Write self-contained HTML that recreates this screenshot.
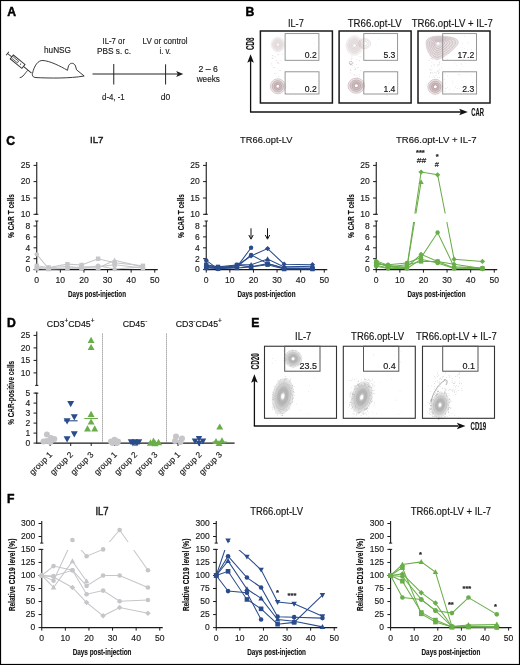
<!DOCTYPE html>
<html><head><meta charset="utf-8"><style>
html,body{margin:0;padding:0;background:#fff;}
svg{display:block;font-family:"Liberation Sans", sans-serif;}
svg text{stroke:#1a1a1a;stroke-width:0.15px;}
#wrap{position:absolute;left:0;top:0;width:520px;height:665px;will-change:transform;}
</style></head><body><div id="wrap">
<svg width="520" height="665" viewBox="0 0 520 665">
<rect x="0" y="0" width="520" height="665" fill="#fff"/>
<rect x="0.5" y="0.5" width="519" height="664" fill="none" stroke="#000" stroke-width="1.2"/>
<text x="7.30" y="16.20" font-size="12.2" text-anchor="start" font-weight="bold" fill="#000" style="stroke:#000;stroke-width:0.45px">A</text>
<text x="245.60" y="16.00" font-size="12.2" text-anchor="start" font-weight="bold" fill="#000" style="stroke:#000;stroke-width:0.45px">B</text>
<text x="6.20" y="144.70" font-size="12.2" text-anchor="start" font-weight="bold" fill="#000" style="stroke:#000;stroke-width:0.45px">C</text>
<text x="6.90" y="326.50" font-size="12.2" text-anchor="start" font-weight="bold" fill="#000" style="stroke:#000;stroke-width:0.45px">D</text>
<text x="251.20" y="326.60" font-size="12.2" text-anchor="start" font-weight="bold" fill="#000" style="stroke:#000;stroke-width:0.45px">E</text>
<text x="6.90" y="502.90" font-size="12.2" text-anchor="start" font-weight="bold" fill="#000" style="stroke:#000;stroke-width:0.45px">F</text>
<text x="57.50" y="52.50" font-size="9.2" text-anchor="middle" font-weight="normal" fill="#222" textLength="27" lengthAdjust="spacingAndGlyphs" >huNSG</text>
<text x="113.75" y="43.50" font-size="8.8" text-anchor="middle" font-weight="normal" fill="#222" textLength="22.5" lengthAdjust="spacingAndGlyphs" >IL-7 or</text>
<text x="113.95" y="53.75" font-size="8.8" text-anchor="middle" font-weight="normal" fill="#222" textLength="34" lengthAdjust="spacingAndGlyphs" >PBS s. c.</text>
<text x="165.10" y="43.80" font-size="8.8" text-anchor="middle" font-weight="normal" fill="#222" textLength="45" lengthAdjust="spacingAndGlyphs" >LV or control</text>
<text x="165.20" y="53.70" font-size="8.8" text-anchor="middle" font-weight="normal" fill="#222" textLength="11.6" lengthAdjust="spacingAndGlyphs" >i. v.</text>
<text x="208.20" y="72.00" font-size="9.2" text-anchor="middle" font-weight="normal" fill="#222" textLength="19.4" lengthAdjust="spacingAndGlyphs" >2 – 6</text>
<text x="208.35" y="81.60" font-size="9.2" text-anchor="middle" font-weight="normal" fill="#222" textLength="23.3" lengthAdjust="spacingAndGlyphs" >weeks</text>
<text x="113.38" y="100.00" font-size="8.8" text-anchor="middle" font-weight="normal" fill="#222" textLength="22.75" lengthAdjust="spacingAndGlyphs" >d-4, -1</text>
<text x="165.55" y="100.00" font-size="8.8" text-anchor="middle" font-weight="normal" fill="#222" textLength="9.5" lengthAdjust="spacingAndGlyphs" >d0</text>
<line x1="92.50" y1="74.00" x2="179.00" y2="74.00" stroke="#222" stroke-width="1.0" />
<path d="M183.3 74 L176.2 70.9 L177.8 74 L176.2 77.1 Z" fill="#222"/>
<line x1="113.75" y1="64.00" x2="113.75" y2="84.50" stroke="#222" stroke-width="1.0" />
<line x1="165.60" y1="64.30" x2="165.60" y2="84.50" stroke="#222" stroke-width="1.0" />
<g stroke="#333" stroke-width="0.95" fill="none"><g transform="translate(7.5,53.5) rotate(39)"><path d="M0 -2.2 L0 2.2 M0 0 L5.5 0 M20.5 0 L31 0"/><rect x="5.5" y="-2.5" width="15" height="5"/><path d="M6 -1.0 L13.5 -1.0 M6 1.0 L13.5 1.0 M13.5 -1.2 L13.5 1.2 M16.5 -0.6 L17.2 0.8" stroke-width="0.7"/></g><path d="M19.7 77.6 C23 77.5 25 73 27.8 70.3"/><path d="M32.5 73.5 C34 66 38 60 43 60.5 C50 61 60 66 67.5 70.3 L68.2 67 C69 62.5 74 62 75.5 66 L76.5 69.8 L84.2 76 C70 78.5 50 78.3 35 77.5 C32.5 77 32 75 32.5 73.5 Z"/></g>
<text x="295.85" y="26.90" font-size="10.7" text-anchor="middle" font-weight="normal" fill="#111" textLength="15.9" lengthAdjust="spacingAndGlyphs" stroke="#111" stroke-width="0.1">IL-7</text>
<text x="374.70" y="27.00" font-size="10.7" text-anchor="middle" font-weight="normal" fill="#111" textLength="54" lengthAdjust="spacingAndGlyphs" stroke="#111" stroke-width="0.1">TR66.opt-LV</text>
<text x="452.30" y="27.00" font-size="10.7" text-anchor="middle" font-weight="normal" fill="#111" textLength="81.2" lengthAdjust="spacingAndGlyphs" stroke="#111" stroke-width="0.1">TR66.opt-LV + IL-7</text>
<defs><radialGradient id="gM"><stop offset="0" stop-color="#fff"/><stop offset="0.15" stop-color="#fff"/><stop offset="0.3" stop-color="#9c7c82" stop-opacity="0.55"/><stop offset="0.7" stop-color="#9c7c82" stop-opacity="0.35"/><stop offset="1" stop-color="#9c7c82" stop-opacity="0.08"/></radialGradient><radialGradient id="gML"><stop offset="0" stop-color="#fff"/><stop offset="0.12" stop-color="#d5c8ca" stop-opacity="0.5"/><stop offset="0.7" stop-color="#c0aeb1" stop-opacity="0.3"/><stop offset="1" stop-color="#c0aeb1" stop-opacity="0.05"/></radialGradient><radialGradient id="gG"><stop offset="0" stop-color="#fff"/><stop offset="0.1" stop-color="#e8e8e8"/><stop offset="0.35" stop-color="#9c9c9c" stop-opacity="0.8"/><stop offset="0.7" stop-color="#b0b0b0" stop-opacity="0.6"/><stop offset="1" stop-color="#c4c4c4" stop-opacity="0.3"/></radialGradient></defs>
<circle cx="275.0" cy="56.8" r="0.4" fill="#9c7c82" fill-opacity="0.5"/>
<circle cx="278.6" cy="54.8" r="0.4" fill="#9c7c82" fill-opacity="0.5"/>
<circle cx="277.3" cy="62.1" r="0.4" fill="#9c7c82" fill-opacity="0.5"/>
<circle cx="272.0" cy="65.7" r="0.4" fill="#9c7c82" fill-opacity="0.5"/>
<circle cx="271.8" cy="63.8" r="0.4" fill="#9c7c82" fill-opacity="0.5"/>
<circle cx="272.2" cy="55.3" r="0.4" fill="#9c7c82" fill-opacity="0.5"/>
<circle cx="276.1" cy="73.7" r="0.4" fill="#9c7c82" fill-opacity="0.5"/>
<circle cx="272.8" cy="58.6" r="0.4" fill="#9c7c82" fill-opacity="0.5"/>
<circle cx="278.3" cy="76.7" r="0.4" fill="#9c7c82" fill-opacity="0.5"/>
<circle cx="277.7" cy="62.9" r="0.4" fill="#9c7c82" fill-opacity="0.5"/>
<circle cx="282.1" cy="54.2" r="0.4" fill="#9c7c82" fill-opacity="0.5"/>
<circle cx="280.8" cy="60.2" r="0.4" fill="#9c7c82" fill-opacity="0.5"/>
<circle cx="273.0" cy="55.9" r="0.4" fill="#9c7c82" fill-opacity="0.5"/>
<circle cx="274.8" cy="73.4" r="0.4" fill="#9c7c82" fill-opacity="0.5"/>
<circle cx="273.4" cy="67.5" r="0.4" fill="#9c7c82" fill-opacity="0.5"/>
<circle cx="278.4" cy="62.3" r="0.4" fill="#9c7c82" fill-opacity="0.5"/>
<circle cx="277.4" cy="54.6" r="0.4" fill="#9c7c82" fill-opacity="0.5"/>
<circle cx="272.1" cy="58.1" r="0.4" fill="#9c7c82" fill-opacity="0.5"/>
<circle cx="278.9" cy="63.7" r="0.4" fill="#9c7c82" fill-opacity="0.5"/>
<circle cx="274.9" cy="67.6" r="0.4" fill="#9c7c82" fill-opacity="0.5"/>
<circle cx="276.4" cy="60.5" r="0.4" fill="#9c7c82" fill-opacity="0.5"/>
<circle cx="280.1" cy="70.5" r="0.4" fill="#9c7c82" fill-opacity="0.5"/>
<circle cx="279.9" cy="70.5" r="0.35" fill="#9c7c82" fill-opacity="0.4"/>
<circle cx="293.1" cy="88.5" r="0.35" fill="#9c7c82" fill-opacity="0.4"/>
<circle cx="302.7" cy="53.3" r="0.35" fill="#9c7c82" fill-opacity="0.4"/>
<circle cx="314.5" cy="43.1" r="0.35" fill="#9c7c82" fill-opacity="0.4"/>
<circle cx="288.1" cy="81.4" r="0.35" fill="#9c7c82" fill-opacity="0.4"/>
<g transform="translate(277.90,44.60) rotate(0)">
<ellipse cx="0" cy="0" rx="6.8" ry="7.4" fill="url(#gML)"/>
<ellipse cx="0" cy="0" rx="6.80" ry="7.40" fill="none" stroke="#b8a8aa" stroke-opacity="0.35" stroke-width="0.5"/>
<ellipse cx="0" cy="0" rx="5.44" ry="5.92" fill="none" stroke="#b8a8aa" stroke-opacity="0.35" stroke-width="0.5"/>
<ellipse cx="0" cy="0" rx="4.08" ry="4.44" fill="none" stroke="#b8a8aa" stroke-opacity="0.35" stroke-width="0.5"/>
<ellipse cx="0" cy="0" rx="2.72" ry="2.96" fill="none" stroke="#b8a8aa" stroke-opacity="0.35" stroke-width="0.5"/>
<ellipse cx="0" cy="0" rx="1.36" ry="1.48" fill="none" stroke="#b8a8aa" stroke-opacity="0.35" stroke-width="0.5"/>
<ellipse cx="0" cy="0" rx="0.95" ry="1.04" fill="#fff"/>
</g>
<g transform="translate(277.80,86.30) rotate(0)">
<ellipse cx="0" cy="0" rx="7.5" ry="7.5" fill="url(#gM)"/>
<ellipse cx="0" cy="0" rx="7.50" ry="7.50" fill="none" stroke="#9c7c82" stroke-opacity="0.6" stroke-width="0.6"/>
<ellipse cx="0" cy="0" rx="5.62" ry="5.62" fill="none" stroke="#9c7c82" stroke-opacity="0.6" stroke-width="0.6"/>
<ellipse cx="0" cy="0" rx="3.75" ry="3.75" fill="none" stroke="#9c7c82" stroke-opacity="0.6" stroke-width="0.6"/>
<ellipse cx="0" cy="0" rx="1.88" ry="1.88" fill="none" stroke="#9c7c82" stroke-opacity="0.6" stroke-width="0.6"/>
<ellipse cx="0" cy="0" rx="1.05" ry="1.05" fill="#fff"/>
</g>
<rect x="260.40" y="31.00" width="72.00" height="72.00" stroke="#1a1a1a" stroke-width="1.5" fill="none"/>
<rect x="285.10" y="33.60" width="33.80" height="26.70" stroke="#8a8a8a" stroke-width="0.9" fill="none"/>
<rect x="285.10" y="71.80" width="33.90" height="22.20" stroke="#8a8a8a" stroke-width="0.9" fill="none"/>
<text x="316.70" y="57.90" font-size="8.6" text-anchor="end" font-weight="normal" fill="#111" >0.2</text>
<text x="316.70" y="91.60" font-size="8.6" text-anchor="end" font-weight="normal" fill="#111" >0.2</text>
<circle cx="351.8" cy="65.2" r="0.4" fill="#9c7c82" fill-opacity="0.5"/>
<circle cx="350.5" cy="69.7" r="0.4" fill="#9c7c82" fill-opacity="0.5"/>
<circle cx="358.5" cy="67.3" r="0.4" fill="#9c7c82" fill-opacity="0.5"/>
<circle cx="359.7" cy="60.8" r="0.4" fill="#9c7c82" fill-opacity="0.5"/>
<circle cx="357.7" cy="67.9" r="0.4" fill="#9c7c82" fill-opacity="0.5"/>
<circle cx="356.5" cy="64.4" r="0.4" fill="#9c7c82" fill-opacity="0.5"/>
<circle cx="359.3" cy="76.6" r="0.4" fill="#9c7c82" fill-opacity="0.5"/>
<circle cx="355.3" cy="69.6" r="0.4" fill="#9c7c82" fill-opacity="0.5"/>
<circle cx="350.8" cy="70.5" r="0.4" fill="#9c7c82" fill-opacity="0.5"/>
<circle cx="357.2" cy="77.8" r="0.4" fill="#9c7c82" fill-opacity="0.5"/>
<circle cx="359.1" cy="60.1" r="0.4" fill="#9c7c82" fill-opacity="0.5"/>
<circle cx="354.3" cy="69.7" r="0.4" fill="#9c7c82" fill-opacity="0.5"/>
<circle cx="350.3" cy="64.5" r="0.4" fill="#9c7c82" fill-opacity="0.5"/>
<circle cx="351.9" cy="55.9" r="0.4" fill="#9c7c82" fill-opacity="0.5"/>
<circle cx="350.7" cy="72.2" r="0.4" fill="#9c7c82" fill-opacity="0.5"/>
<circle cx="351.5" cy="59.2" r="0.4" fill="#9c7c82" fill-opacity="0.5"/>
<circle cx="354.4" cy="74.8" r="0.4" fill="#9c7c82" fill-opacity="0.5"/>
<circle cx="351.0" cy="64.2" r="0.4" fill="#9c7c82" fill-opacity="0.5"/>
<circle cx="356.1" cy="75.1" r="0.4" fill="#9c7c82" fill-opacity="0.5"/>
<circle cx="359.1" cy="74.6" r="0.4" fill="#9c7c82" fill-opacity="0.5"/>
<circle cx="353.2" cy="63.4" r="0.4" fill="#9c7c82" fill-opacity="0.5"/>
<circle cx="354.0" cy="75.1" r="0.4" fill="#9c7c82" fill-opacity="0.5"/>
<circle cx="360.6" cy="56.8" r="0.4" fill="#9c7c82" fill-opacity="0.5"/>
<circle cx="352.0" cy="58.8" r="0.4" fill="#9c7c82" fill-opacity="0.5"/>
<circle cx="352.7" cy="65.1" r="0.4" fill="#9c7c82" fill-opacity="0.5"/>
<circle cx="356.6" cy="59.6" r="0.4" fill="#9c7c82" fill-opacity="0.5"/>
<circle cx="350.1" cy="63.5" r="0.4" fill="#9c7c82" fill-opacity="0.5"/>
<circle cx="354.2" cy="67.2" r="0.4" fill="#9c7c82" fill-opacity="0.5"/>
<circle cx="360.6" cy="70.3" r="0.4" fill="#9c7c82" fill-opacity="0.5"/>
<circle cx="355.8" cy="68.4" r="0.4" fill="#9c7c82" fill-opacity="0.5"/>
<circle cx="378.9" cy="39.2" r="0.35" fill="#9c7c82" fill-opacity="0.4"/>
<circle cx="389.4" cy="82.8" r="0.35" fill="#9c7c82" fill-opacity="0.4"/>
<circle cx="388.2" cy="83.9" r="0.35" fill="#9c7c82" fill-opacity="0.4"/>
<circle cx="365.5" cy="59.9" r="0.35" fill="#9c7c82" fill-opacity="0.4"/>
<circle cx="352.0" cy="74.1" r="0.35" fill="#9c7c82" fill-opacity="0.4"/>
<circle cx="350.0" cy="40.0" r="0.35" fill="#9c7c82" fill-opacity="0.4"/>
<circle cx="356.9" cy="45.7" r="0.35" fill="#9c7c82" fill-opacity="0.4"/>
<circle cx="363.1" cy="39.2" r="0.35" fill="#9c7c82" fill-opacity="0.4"/>
<circle cx="347.1" cy="45.1" r="0.35" fill="#9c7c82" fill-opacity="0.4"/>
<circle cx="351.9" cy="57.8" r="0.35" fill="#9c7c82" fill-opacity="0.4"/>
<circle cx="348.3" cy="88.5" r="0.35" fill="#9c7c82" fill-opacity="0.4"/>
<circle cx="376.0" cy="44.9" r="0.35" fill="#9c7c82" fill-opacity="0.4"/>
<circle cx="359.0" cy="56.8" r="0.35" fill="#9c7c82" fill-opacity="0.4"/>
<circle cx="364.2" cy="43.4" r="0.35" fill="#9c7c82" fill-opacity="0.4"/>
<circle cx="387.0" cy="95.6" r="0.35" fill="#9c7c82" fill-opacity="0.4"/>
<g transform="translate(354.50,45.50) rotate(0)">
<ellipse cx="0" cy="0" rx="8.5" ry="9.8" fill="url(#gML)"/>
<ellipse cx="0" cy="0" rx="8.50" ry="9.80" fill="none" stroke="#b09a9e" stroke-opacity="0.35" stroke-width="0.5"/>
<ellipse cx="0" cy="0" rx="6.80" ry="7.84" fill="none" stroke="#b09a9e" stroke-opacity="0.35" stroke-width="0.5"/>
<ellipse cx="0" cy="0" rx="5.10" ry="5.88" fill="none" stroke="#b09a9e" stroke-opacity="0.35" stroke-width="0.5"/>
<ellipse cx="0" cy="0" rx="3.40" ry="3.92" fill="none" stroke="#b09a9e" stroke-opacity="0.35" stroke-width="0.5"/>
<ellipse cx="0" cy="0" rx="1.70" ry="1.96" fill="none" stroke="#b09a9e" stroke-opacity="0.35" stroke-width="0.5"/>
<ellipse cx="0" cy="0" rx="1.19" ry="1.37" fill="#fff"/>
</g>
<ellipse cx="364.6" cy="43.5" rx="6.0" ry="5.0" fill="none" stroke="#9c7c82" stroke-opacity="0.45" stroke-width="0.5"/>
<ellipse cx="364.6" cy="43.5" rx="4.4" ry="3.7" fill="none" stroke="#9c7c82" stroke-opacity="0.45" stroke-width="0.5"/>
<ellipse cx="364.6" cy="43.5" rx="2.8" ry="2.4" fill="none" stroke="#9c7c82" stroke-opacity="0.45" stroke-width="0.5"/>
<circle cx="350.8" cy="62.9" r="1.6" fill="none" stroke="#9c7c82" stroke-opacity="0.7" stroke-width="0.6"/>
<g transform="translate(356.30,85.70) rotate(0)">
<ellipse cx="0" cy="0" rx="8.3" ry="7.6" fill="url(#gM)"/>
<ellipse cx="0" cy="0" rx="8.30" ry="7.60" fill="none" stroke="#9c7c82" stroke-opacity="0.65" stroke-width="0.6"/>
<ellipse cx="0" cy="0" rx="6.23" ry="5.70" fill="none" stroke="#9c7c82" stroke-opacity="0.65" stroke-width="0.6"/>
<ellipse cx="0" cy="0" rx="4.15" ry="3.80" fill="none" stroke="#9c7c82" stroke-opacity="0.65" stroke-width="0.6"/>
<ellipse cx="0" cy="0" rx="2.08" ry="1.90" fill="none" stroke="#9c7c82" stroke-opacity="0.65" stroke-width="0.6"/>
<ellipse cx="0" cy="0" rx="1.16" ry="1.06" fill="#fff"/>
</g>
<rect x="339.10" y="31.00" width="72.00" height="72.00" stroke="#1a1a1a" stroke-width="1.5" fill="none"/>
<rect x="363.80" y="33.60" width="33.80" height="26.70" stroke="#8a8a8a" stroke-width="0.9" fill="none"/>
<rect x="363.80" y="71.80" width="33.90" height="22.20" stroke="#8a8a8a" stroke-width="0.9" fill="none"/>
<text x="395.40" y="57.90" font-size="8.6" text-anchor="end" font-weight="normal" fill="#111" >5.3</text>
<text x="395.40" y="91.60" font-size="8.6" text-anchor="end" font-weight="normal" fill="#111" >1.4</text>
<circle cx="434.1" cy="65.1" r="0.4" fill="#9c7c82" fill-opacity="0.5"/>
<circle cx="429.9" cy="55.6" r="0.4" fill="#9c7c82" fill-opacity="0.5"/>
<circle cx="432.8" cy="59.6" r="0.4" fill="#9c7c82" fill-opacity="0.5"/>
<circle cx="438.1" cy="57.0" r="0.4" fill="#9c7c82" fill-opacity="0.5"/>
<circle cx="429.3" cy="76.8" r="0.4" fill="#9c7c82" fill-opacity="0.5"/>
<circle cx="434.8" cy="56.7" r="0.4" fill="#9c7c82" fill-opacity="0.5"/>
<circle cx="435.0" cy="53.7" r="0.4" fill="#9c7c82" fill-opacity="0.5"/>
<circle cx="434.8" cy="77.5" r="0.4" fill="#9c7c82" fill-opacity="0.5"/>
<circle cx="438.5" cy="70.4" r="0.4" fill="#9c7c82" fill-opacity="0.5"/>
<circle cx="431.9" cy="62.2" r="0.4" fill="#9c7c82" fill-opacity="0.5"/>
<circle cx="430.8" cy="72.3" r="0.4" fill="#9c7c82" fill-opacity="0.5"/>
<circle cx="434.9" cy="72.5" r="0.4" fill="#9c7c82" fill-opacity="0.5"/>
<circle cx="432.6" cy="58.6" r="0.4" fill="#9c7c82" fill-opacity="0.5"/>
<circle cx="437.9" cy="77.6" r="0.4" fill="#9c7c82" fill-opacity="0.5"/>
<circle cx="438.4" cy="73.2" r="0.4" fill="#9c7c82" fill-opacity="0.5"/>
<circle cx="438.0" cy="71.5" r="0.4" fill="#9c7c82" fill-opacity="0.5"/>
<circle cx="431.5" cy="65.9" r="0.4" fill="#9c7c82" fill-opacity="0.5"/>
<circle cx="432.9" cy="53.7" r="0.4" fill="#9c7c82" fill-opacity="0.5"/>
<circle cx="429.3" cy="60.0" r="0.4" fill="#9c7c82" fill-opacity="0.5"/>
<circle cx="431.9" cy="70.3" r="0.4" fill="#9c7c82" fill-opacity="0.5"/>
<circle cx="439.5" cy="64.2" r="0.4" fill="#9c7c82" fill-opacity="0.5"/>
<circle cx="439.3" cy="77.7" r="0.4" fill="#9c7c82" fill-opacity="0.5"/>
<circle cx="439.5" cy="62.1" r="0.4" fill="#9c7c82" fill-opacity="0.5"/>
<circle cx="431.4" cy="58.7" r="0.4" fill="#9c7c82" fill-opacity="0.5"/>
<circle cx="431.2" cy="58.1" r="0.4" fill="#9c7c82" fill-opacity="0.5"/>
<circle cx="435.9" cy="75.5" r="0.4" fill="#9c7c82" fill-opacity="0.5"/>
<circle cx="438.2" cy="65.0" r="0.4" fill="#9c7c82" fill-opacity="0.5"/>
<circle cx="436.2" cy="73.0" r="0.4" fill="#9c7c82" fill-opacity="0.5"/>
<circle cx="429.9" cy="69.5" r="0.4" fill="#9c7c82" fill-opacity="0.5"/>
<circle cx="439.0" cy="72.6" r="0.4" fill="#9c7c82" fill-opacity="0.5"/>
<circle cx="437.3" cy="65.0" r="0.4" fill="#9c7c82" fill-opacity="0.5"/>
<circle cx="431.0" cy="72.7" r="0.4" fill="#9c7c82" fill-opacity="0.5"/>
<circle cx="432.7" cy="73.0" r="0.4" fill="#9c7c82" fill-opacity="0.5"/>
<circle cx="439.7" cy="62.9" r="0.4" fill="#9c7c82" fill-opacity="0.5"/>
<circle cx="433.4" cy="76.7" r="0.4" fill="#9c7c82" fill-opacity="0.5"/>
<circle cx="437.0" cy="57.3" r="0.4" fill="#9c7c82" fill-opacity="0.5"/>
<circle cx="430.4" cy="56.8" r="0.4" fill="#9c7c82" fill-opacity="0.5"/>
<circle cx="439.0" cy="73.2" r="0.4" fill="#9c7c82" fill-opacity="0.5"/>
<circle cx="430.6" cy="73.7" r="0.4" fill="#9c7c82" fill-opacity="0.5"/>
<circle cx="439.8" cy="69.4" r="0.4" fill="#9c7c82" fill-opacity="0.5"/>
<circle cx="442.5" cy="68.9" r="0.35" fill="#9c7c82" fill-opacity="0.4"/>
<circle cx="432.2" cy="36.9" r="0.35" fill="#9c7c82" fill-opacity="0.4"/>
<circle cx="471.6" cy="75.0" r="0.35" fill="#9c7c82" fill-opacity="0.4"/>
<circle cx="450.7" cy="92.0" r="0.35" fill="#9c7c82" fill-opacity="0.4"/>
<circle cx="446.4" cy="88.3" r="0.35" fill="#9c7c82" fill-opacity="0.4"/>
<circle cx="464.8" cy="48.7" r="0.35" fill="#9c7c82" fill-opacity="0.4"/>
<circle cx="437.8" cy="53.6" r="0.35" fill="#9c7c82" fill-opacity="0.4"/>
<circle cx="437.3" cy="71.2" r="0.35" fill="#9c7c82" fill-opacity="0.4"/>
<circle cx="438.2" cy="61.1" r="0.35" fill="#9c7c82" fill-opacity="0.4"/>
<circle cx="432.2" cy="90.6" r="0.35" fill="#9c7c82" fill-opacity="0.4"/>
<circle cx="442.6" cy="63.5" r="0.35" fill="#9c7c82" fill-opacity="0.4"/>
<circle cx="453.4" cy="90.3" r="0.35" fill="#9c7c82" fill-opacity="0.4"/>
<circle cx="445.8" cy="91.1" r="0.35" fill="#9c7c82" fill-opacity="0.4"/>
<circle cx="449.6" cy="67.9" r="0.35" fill="#9c7c82" fill-opacity="0.4"/>
<circle cx="450.6" cy="37.1" r="0.35" fill="#9c7c82" fill-opacity="0.4"/>
<circle cx="446.7" cy="47.0" r="0.35" fill="#9c7c82" fill-opacity="0.4"/>
<circle cx="426.2" cy="84.0" r="0.35" fill="#9c7c82" fill-opacity="0.4"/>
<circle cx="434.1" cy="64.4" r="0.35" fill="#9c7c82" fill-opacity="0.4"/>
<circle cx="460.1" cy="69.4" r="0.35" fill="#9c7c82" fill-opacity="0.4"/>
<circle cx="441.3" cy="67.1" r="0.35" fill="#9c7c82" fill-opacity="0.4"/>
<circle cx="452.1" cy="83.1" r="0.35" fill="#9c7c82" fill-opacity="0.4"/>
<circle cx="431.0" cy="69.6" r="0.35" fill="#9c7c82" fill-opacity="0.4"/>
<circle cx="437.7" cy="52.6" r="0.35" fill="#9c7c82" fill-opacity="0.4"/>
<circle cx="462.3" cy="66.5" r="0.35" fill="#9c7c82" fill-opacity="0.4"/>
<circle cx="452.4" cy="81.6" r="0.35" fill="#9c7c82" fill-opacity="0.4"/>
<circle cx="470.4" cy="60.3" r="0.4" fill="#9c7c82" fill-opacity="0.45"/>
<circle cx="461.4" cy="63.8" r="0.4" fill="#9c7c82" fill-opacity="0.45"/>
<circle cx="458.4" cy="74.5" r="0.4" fill="#9c7c82" fill-opacity="0.45"/>
<circle cx="456.6" cy="65.4" r="0.4" fill="#9c7c82" fill-opacity="0.45"/>
<circle cx="457.3" cy="88.7" r="0.4" fill="#9c7c82" fill-opacity="0.45"/>
<circle cx="464.0" cy="85.0" r="0.4" fill="#9c7c82" fill-opacity="0.45"/>
<circle cx="471.3" cy="49.8" r="0.4" fill="#9c7c82" fill-opacity="0.45"/>
<circle cx="459.8" cy="88.8" r="0.4" fill="#9c7c82" fill-opacity="0.45"/>
<circle cx="468.2" cy="42.8" r="0.4" fill="#9c7c82" fill-opacity="0.45"/>
<circle cx="446.6" cy="60.2" r="0.4" fill="#9c7c82" fill-opacity="0.45"/>
<circle cx="445.2" cy="48.7" r="0.4" fill="#9c7c82" fill-opacity="0.45"/>
<circle cx="445.2" cy="73.2" r="0.4" fill="#9c7c82" fill-opacity="0.45"/>
<circle cx="466.5" cy="86.1" r="0.4" fill="#9c7c82" fill-opacity="0.45"/>
<circle cx="447.6" cy="75.8" r="0.4" fill="#9c7c82" fill-opacity="0.45"/>
<circle cx="462.8" cy="43.1" r="0.4" fill="#9c7c82" fill-opacity="0.45"/>
<circle cx="469.5" cy="90.2" r="0.4" fill="#9c7c82" fill-opacity="0.45"/>
<circle cx="449.6" cy="89.3" r="0.4" fill="#9c7c82" fill-opacity="0.45"/>
<circle cx="454.9" cy="62.8" r="0.4" fill="#9c7c82" fill-opacity="0.45"/>
<circle cx="472.7" cy="82.4" r="0.4" fill="#9c7c82" fill-opacity="0.45"/>
<circle cx="447.8" cy="59.6" r="0.4" fill="#9c7c82" fill-opacity="0.45"/>
<circle cx="458.5" cy="54.3" r="0.4" fill="#9c7c82" fill-opacity="0.45"/>
<circle cx="448.9" cy="53.2" r="0.4" fill="#9c7c82" fill-opacity="0.45"/>
<circle cx="464.7" cy="36.1" r="0.4" fill="#9c7c82" fill-opacity="0.45"/>
<circle cx="459.6" cy="60.1" r="0.4" fill="#9c7c82" fill-opacity="0.45"/>
<circle cx="443.5" cy="53.9" r="0.4" fill="#9c7c82" fill-opacity="0.45"/>
<circle cx="461.7" cy="64.2" r="0.4" fill="#9c7c82" fill-opacity="0.45"/>
<circle cx="444.9" cy="91.1" r="0.4" fill="#9c7c82" fill-opacity="0.45"/>
<circle cx="466.7" cy="90.4" r="0.4" fill="#9c7c82" fill-opacity="0.45"/>
<circle cx="446.1" cy="50.1" r="0.4" fill="#9c7c82" fill-opacity="0.45"/>
<circle cx="444.2" cy="79.4" r="0.4" fill="#9c7c82" fill-opacity="0.45"/>
<circle cx="451.1" cy="42.4" r="0.4" fill="#9c7c82" fill-opacity="0.45"/>
<circle cx="455.7" cy="87.0" r="0.4" fill="#9c7c82" fill-opacity="0.45"/>
<circle cx="467.6" cy="49.7" r="0.4" fill="#9c7c82" fill-opacity="0.45"/>
<circle cx="447.5" cy="87.4" r="0.4" fill="#9c7c82" fill-opacity="0.45"/>
<circle cx="460.1" cy="74.9" r="0.4" fill="#9c7c82" fill-opacity="0.45"/>
<circle cx="445.7" cy="38.3" r="0.4" fill="#9c7c82" fill-opacity="0.45"/>
<circle cx="463.6" cy="59.2" r="0.4" fill="#9c7c82" fill-opacity="0.45"/>
<circle cx="445.2" cy="88.5" r="0.4" fill="#9c7c82" fill-opacity="0.45"/>
<circle cx="462.0" cy="80.7" r="0.4" fill="#9c7c82" fill-opacity="0.45"/>
<circle cx="445.5" cy="83.8" r="0.4" fill="#9c7c82" fill-opacity="0.45"/>
<g transform="translate(438.00,43.5)">
<path d="M-12 -1 C-12 -8 2 -8.5 12 -6.5 C18 -5.5 21.5 -3.5 20 0.5 C16 6.5 6 14.5 -1 16.3 C-8 14.5 -12 6.5 -12 -1 Z" fill="#b09a9e" fill-opacity="0.3"/>
<path d="M-12 -1 C-12 -8 2 -8.5 12 -6.5 C18 -5.5 21.5 -3.5 20 0.5 C16 6.5 6 14.5 -1 16.3 C-8 14.5 -12 6.5 -12 -1 Z" transform="scale(1.0)" fill="none" stroke="#9c7c82" stroke-opacity="0.45" stroke-width="0.55"/>
<path d="M-12 -1 C-12 -8 2 -8.5 12 -6.5 C18 -5.5 21.5 -3.5 20 0.5 C16 6.5 6 14.5 -1 16.3 C-8 14.5 -12 6.5 -12 -1 Z" transform="scale(0.86)" fill="none" stroke="#9c7c82" stroke-opacity="0.50" stroke-width="0.64"/>
<path d="M-12 -1 C-12 -8 2 -8.5 12 -6.5 C18 -5.5 21.5 -3.5 20 0.5 C16 6.5 6 14.5 -1 16.3 C-8 14.5 -12 6.5 -12 -1 Z" transform="scale(0.72)" fill="none" stroke="#9c7c82" stroke-opacity="0.55" stroke-width="0.76"/>
<path d="M-12 -1 C-12 -8 2 -8.5 12 -6.5 C18 -5.5 21.5 -3.5 20 0.5 C16 6.5 6 14.5 -1 16.3 C-8 14.5 -12 6.5 -12 -1 Z" transform="scale(0.58)" fill="none" stroke="#9c7c82" stroke-opacity="0.60" stroke-width="0.95"/>
<path d="M-12 -1 C-12 -8 2 -8.5 12 -6.5 C18 -5.5 21.5 -3.5 20 0.5 C16 6.5 6 14.5 -1 16.3 C-8 14.5 -12 6.5 -12 -1 Z" transform="scale(0.45)" fill="none" stroke="#9c7c82" stroke-opacity="0.65" stroke-width="1.22"/>
<path d="M-12 -1 C-12 -8 2 -8.5 12 -6.5 C18 -5.5 21.5 -3.5 20 0.5 C16 6.5 6 14.5 -1 16.3 C-8 14.5 -12 6.5 -12 -1 Z" transform="scale(0.32)" fill="none" stroke="#9c7c82" stroke-opacity="0.70" stroke-width="1.72"/>
<path d="M-12 -1 C-12 -8 2 -8.5 12 -6.5 C18 -5.5 21.5 -3.5 20 0.5 C16 6.5 6 14.5 -1 16.3 C-8 14.5 -12 6.5 -12 -1 Z" transform="scale(0.2)" fill="none" stroke="#9c7c82" stroke-opacity="0.75" stroke-width="1.40"/>
<circle cx="0" cy="0" r="1.2" fill="#fff"/>
</g>
<g transform="translate(435.30,86.80) rotate(0)">
<ellipse cx="0" cy="0" rx="7.5" ry="7.5" fill="url(#gM)"/>
<ellipse cx="0" cy="0" rx="7.50" ry="7.50" fill="none" stroke="#9c7c82" stroke-opacity="0.65" stroke-width="0.6"/>
<ellipse cx="0" cy="0" rx="5.62" ry="5.62" fill="none" stroke="#9c7c82" stroke-opacity="0.65" stroke-width="0.6"/>
<ellipse cx="0" cy="0" rx="3.75" ry="3.75" fill="none" stroke="#9c7c82" stroke-opacity="0.65" stroke-width="0.6"/>
<ellipse cx="0" cy="0" rx="1.88" ry="1.88" fill="none" stroke="#9c7c82" stroke-opacity="0.65" stroke-width="0.6"/>
<ellipse cx="0" cy="0" rx="1.05" ry="1.05" fill="#fff"/>
</g>
<rect x="418.00" y="31.00" width="72.00" height="72.00" stroke="#1a1a1a" stroke-width="1.5" fill="none"/>
<rect x="442.70" y="33.60" width="33.80" height="26.70" stroke="#8a8a8a" stroke-width="0.9" fill="none"/>
<rect x="442.70" y="71.80" width="33.90" height="22.20" stroke="#8a8a8a" stroke-width="0.9" fill="none"/>
<text x="474.30" y="57.90" font-size="8.6" text-anchor="end" font-weight="normal" fill="#111" >17.2</text>
<text x="474.30" y="91.60" font-size="8.6" text-anchor="end" font-weight="normal" fill="#111" >2.3</text>
<line x1="250.60" y1="112.00" x2="250.60" y2="61.00" stroke="#111" stroke-width="1.3" />
<path d="M250.6 54.2 L253.9 62.7 L250.6 61 L247.3 62.7 Z" fill="#111"/>
<line x1="250.00" y1="112.00" x2="461.00" y2="112.00" stroke="#111" stroke-width="1.3" />
<path d="M467.8 112 L459.2 108.7 L461 112 L459.2 115.3 Z" fill="#111"/>
<text transform="translate(254.3,43.75) rotate(-90)" x="0" y="0" font-size="10.6" font-weight="bold" text-anchor="middle" fill="#111" textLength="12.5" lengthAdjust="spacingAndGlyphs">CD8</text>
<text x="471.30" y="115.60" font-size="10.6" text-anchor="start" font-weight="bold" fill="#111" textLength="12.7" lengthAdjust="spacingAndGlyphs" >CAR</text>
<clipPath id="clipC36"><path d="M31.75 0 H166.75 V213.5 H31.75 Z M31.75 222 H166.75 V300 H31.75 Z"/></clipPath>
<text x="96.75" y="143.30" font-size="9.9" text-anchor="middle" font-weight="normal" fill="#111" textLength="13.5" lengthAdjust="spacingAndGlyphs" style="stroke-width:0.4px">IL7</text>
<line x1="36.75" y1="162.10" x2="36.75" y2="214.30" stroke="#1a1a1a" stroke-width="1.1" />
<line x1="35.15" y1="214.30" x2="38.35" y2="214.30" stroke="#1a1a1a" stroke-width="1" />
<line x1="36.75" y1="221.00" x2="36.75" y2="270.10" stroke="#1a1a1a" stroke-width="1.1" />
<line x1="35.15" y1="221.00" x2="38.35" y2="221.00" stroke="#1a1a1a" stroke-width="1" />
<line x1="36.25" y1="269.60" x2="157.75" y2="269.60" stroke="#1a1a1a" stroke-width="1.2" />
<line x1="33.55" y1="165.40" x2="36.75" y2="165.40" stroke="#1a1a1a" stroke-width="1" />
<text x="30.15" y="168.20" font-size="8.5" text-anchor="end" font-weight="normal" fill="#222" >25</text>
<line x1="33.55" y1="181.60" x2="36.75" y2="181.60" stroke="#1a1a1a" stroke-width="1" />
<text x="30.15" y="184.40" font-size="8.5" text-anchor="end" font-weight="normal" fill="#222" >20</text>
<line x1="33.55" y1="198.00" x2="36.75" y2="198.00" stroke="#1a1a1a" stroke-width="1" />
<text x="30.15" y="200.80" font-size="8.5" text-anchor="end" font-weight="normal" fill="#222" >15</text>
<line x1="33.55" y1="214.30" x2="36.75" y2="214.30" stroke="#1a1a1a" stroke-width="1" />
<text x="30.15" y="217.10" font-size="8.5" text-anchor="end" font-weight="normal" fill="#222" >10</text>
<line x1="33.55" y1="226.00" x2="36.75" y2="226.00" stroke="#1a1a1a" stroke-width="1" />
<text x="30.15" y="228.80" font-size="8.5" text-anchor="end" font-weight="normal" fill="#222" >8</text>
<line x1="33.55" y1="236.90" x2="36.75" y2="236.90" stroke="#1a1a1a" stroke-width="1" />
<text x="30.15" y="239.70" font-size="8.5" text-anchor="end" font-weight="normal" fill="#222" >6</text>
<line x1="33.55" y1="247.80" x2="36.75" y2="247.80" stroke="#1a1a1a" stroke-width="1" />
<text x="30.15" y="250.60" font-size="8.5" text-anchor="end" font-weight="normal" fill="#222" >4</text>
<line x1="33.55" y1="258.70" x2="36.75" y2="258.70" stroke="#1a1a1a" stroke-width="1" />
<text x="30.15" y="261.50" font-size="8.5" text-anchor="end" font-weight="normal" fill="#222" >2</text>
<line x1="33.55" y1="269.60" x2="36.75" y2="269.60" stroke="#1a1a1a" stroke-width="1" />
<text x="30.15" y="272.40" font-size="8.5" text-anchor="end" font-weight="normal" fill="#222" >0</text>
<line x1="36.75" y1="269.60" x2="36.75" y2="272.60" stroke="#1a1a1a" stroke-width="1" />
<text x="36.75" y="283.40" font-size="8.6" text-anchor="middle" font-weight="normal" fill="#222" >0</text>
<line x1="60.35" y1="269.60" x2="60.35" y2="272.60" stroke="#1a1a1a" stroke-width="1" />
<text x="60.35" y="283.40" font-size="8.6" text-anchor="middle" font-weight="normal" fill="#222" >10</text>
<line x1="83.95" y1="269.60" x2="83.95" y2="272.60" stroke="#1a1a1a" stroke-width="1" />
<text x="83.95" y="283.40" font-size="8.6" text-anchor="middle" font-weight="normal" fill="#222" >20</text>
<line x1="107.55" y1="269.60" x2="107.55" y2="272.60" stroke="#1a1a1a" stroke-width="1" />
<text x="107.55" y="283.40" font-size="8.6" text-anchor="middle" font-weight="normal" fill="#222" >30</text>
<line x1="131.15" y1="269.60" x2="131.15" y2="272.60" stroke="#1a1a1a" stroke-width="1" />
<text x="131.15" y="283.40" font-size="8.6" text-anchor="middle" font-weight="normal" fill="#222" >40</text>
<line x1="154.75" y1="269.60" x2="154.75" y2="272.60" stroke="#1a1a1a" stroke-width="1" />
<text x="154.75" y="283.40" font-size="8.6" text-anchor="middle" font-weight="normal" fill="#222" >50</text>
<text x="97.00" y="296.80" font-size="9.4" text-anchor="middle" font-weight="bold" fill="#111" textLength="58" lengthAdjust="spacingAndGlyphs" >Days post-injection</text>
<text transform="translate(14.25,216.00) rotate(-90)" x="0" y="0" font-size="8.5" font-weight="bold" text-anchor="middle" fill="#111" textLength="44" lengthAdjust="spacingAndGlyphs">% CAR T cells</text>
<g clip-path="url(#clipC36)">
<path d="M36.75 254.34 L48.55 268.51 L67.43 267.97 L81.59 268.51 L98.11 265.79 L114.63 269.06 L142.95 266.88" fill="none" stroke="#c6c6ca" stroke-width="1.05"/>
<path d="M36.75 265.79 L48.55 267.42 L67.43 264.15 L81.59 264.97 L98.11 258.70 L114.63 262.68 L142.95 265.79" fill="none" stroke="#c6c6ca" stroke-width="1.05"/>
<path d="M36.75 267.42 L48.55 267.97 L67.43 266.33 L81.59 267.97 L98.11 267.97 L114.63 260.34 L142.95 266.88" fill="none" stroke="#c6c6ca" stroke-width="1.05"/>
<path d="M36.75 268.51 L48.55 269.06 L67.43 268.51 L81.59 266.88 L98.11 266.88 L114.63 264.70 L142.95 267.97" fill="none" stroke="#c6c6ca" stroke-width="1.05"/>
</g>
<circle cx="36.75" cy="254.34" r="2.2" fill="#c6c6ca"/>
<circle cx="48.55" cy="268.51" r="2.2" fill="#c6c6ca"/>
<circle cx="67.43" cy="267.97" r="2.2" fill="#c6c6ca"/>
<circle cx="81.59" cy="268.51" r="2.2" fill="#c6c6ca"/>
<circle cx="98.11" cy="265.79" r="2.2" fill="#c6c6ca"/>
<circle cx="114.63" cy="269.06" r="2.2" fill="#c6c6ca"/>
<circle cx="142.95" cy="266.88" r="2.2" fill="#c6c6ca"/>
<rect x="34.55" y="263.59" width="4.40" height="4.40" fill="#c6c6ca"/>
<rect x="46.35" y="265.22" width="4.40" height="4.40" fill="#c6c6ca"/>
<rect x="65.23" y="261.95" width="4.40" height="4.40" fill="#c6c6ca"/>
<rect x="79.39" y="262.77" width="4.40" height="4.40" fill="#c6c6ca"/>
<rect x="95.91" y="256.50" width="4.40" height="4.40" fill="#c6c6ca"/>
<rect x="112.43" y="260.48" width="4.40" height="4.40" fill="#c6c6ca"/>
<rect x="140.75" y="263.59" width="4.40" height="4.40" fill="#c6c6ca"/>
<path d="M36.75 264.67 L39.39 269.40 L34.11 269.40 Z" fill="#c6c6ca"/>
<path d="M48.55 265.22 L51.19 269.95 L45.91 269.95 Z" fill="#c6c6ca"/>
<path d="M67.43 263.58 L70.07 268.31 L64.79 268.31 Z" fill="#c6c6ca"/>
<path d="M81.59 265.22 L84.23 269.95 L78.95 269.95 Z" fill="#c6c6ca"/>
<path d="M98.11 265.22 L100.75 269.95 L95.47 269.95 Z" fill="#c6c6ca"/>
<path d="M114.63 257.59 L117.27 262.32 L111.99 262.32 Z" fill="#c6c6ca"/>
<path d="M142.95 264.12 L145.59 268.86 L140.31 268.86 Z" fill="#c6c6ca"/>
<rect x="34.55" y="266.31" width="4.40" height="4.40" fill="#c6c6ca"/>
<rect x="46.35" y="266.86" width="4.40" height="4.40" fill="#c6c6ca"/>
<rect x="65.23" y="266.31" width="4.40" height="4.40" fill="#c6c6ca"/>
<rect x="79.39" y="264.68" width="4.40" height="4.40" fill="#c6c6ca"/>
<rect x="95.91" y="264.68" width="4.40" height="4.40" fill="#c6c6ca"/>
<rect x="112.43" y="262.50" width="4.40" height="4.40" fill="#c6c6ca"/>
<rect x="140.75" y="265.77" width="4.40" height="4.40" fill="#c6c6ca"/>
<clipPath id="clipC206"><path d="M201.25 0 H336.25 V213.5 H201.25 Z M201.25 222 H336.25 V300 H201.25 Z"/></clipPath>
<text x="266.25" y="143.30" font-size="9.9" text-anchor="middle" font-weight="normal" fill="#111" textLength="52.3" lengthAdjust="spacingAndGlyphs" >TR66.opt-LV</text>
<line x1="206.25" y1="162.10" x2="206.25" y2="214.30" stroke="#1a1a1a" stroke-width="1.1" />
<line x1="204.65" y1="214.30" x2="207.85" y2="214.30" stroke="#1a1a1a" stroke-width="1" />
<line x1="206.25" y1="221.00" x2="206.25" y2="270.10" stroke="#1a1a1a" stroke-width="1.1" />
<line x1="204.65" y1="221.00" x2="207.85" y2="221.00" stroke="#1a1a1a" stroke-width="1" />
<line x1="205.75" y1="269.60" x2="327.25" y2="269.60" stroke="#1a1a1a" stroke-width="1.2" />
<line x1="203.05" y1="165.40" x2="206.25" y2="165.40" stroke="#1a1a1a" stroke-width="1" />
<text x="199.65" y="168.20" font-size="8.5" text-anchor="end" font-weight="normal" fill="#222" >25</text>
<line x1="203.05" y1="181.60" x2="206.25" y2="181.60" stroke="#1a1a1a" stroke-width="1" />
<text x="199.65" y="184.40" font-size="8.5" text-anchor="end" font-weight="normal" fill="#222" >20</text>
<line x1="203.05" y1="198.00" x2="206.25" y2="198.00" stroke="#1a1a1a" stroke-width="1" />
<text x="199.65" y="200.80" font-size="8.5" text-anchor="end" font-weight="normal" fill="#222" >15</text>
<line x1="203.05" y1="214.30" x2="206.25" y2="214.30" stroke="#1a1a1a" stroke-width="1" />
<text x="199.65" y="217.10" font-size="8.5" text-anchor="end" font-weight="normal" fill="#222" >10</text>
<line x1="203.05" y1="226.00" x2="206.25" y2="226.00" stroke="#1a1a1a" stroke-width="1" />
<text x="199.65" y="228.80" font-size="8.5" text-anchor="end" font-weight="normal" fill="#222" >8</text>
<line x1="203.05" y1="236.90" x2="206.25" y2="236.90" stroke="#1a1a1a" stroke-width="1" />
<text x="199.65" y="239.70" font-size="8.5" text-anchor="end" font-weight="normal" fill="#222" >6</text>
<line x1="203.05" y1="247.80" x2="206.25" y2="247.80" stroke="#1a1a1a" stroke-width="1" />
<text x="199.65" y="250.60" font-size="8.5" text-anchor="end" font-weight="normal" fill="#222" >4</text>
<line x1="203.05" y1="258.70" x2="206.25" y2="258.70" stroke="#1a1a1a" stroke-width="1" />
<text x="199.65" y="261.50" font-size="8.5" text-anchor="end" font-weight="normal" fill="#222" >2</text>
<line x1="203.05" y1="269.60" x2="206.25" y2="269.60" stroke="#1a1a1a" stroke-width="1" />
<text x="199.65" y="272.40" font-size="8.5" text-anchor="end" font-weight="normal" fill="#222" >0</text>
<line x1="206.25" y1="269.60" x2="206.25" y2="272.60" stroke="#1a1a1a" stroke-width="1" />
<text x="206.25" y="283.40" font-size="8.6" text-anchor="middle" font-weight="normal" fill="#222" >0</text>
<line x1="229.85" y1="269.60" x2="229.85" y2="272.60" stroke="#1a1a1a" stroke-width="1" />
<text x="229.85" y="283.40" font-size="8.6" text-anchor="middle" font-weight="normal" fill="#222" >10</text>
<line x1="253.45" y1="269.60" x2="253.45" y2="272.60" stroke="#1a1a1a" stroke-width="1" />
<text x="253.45" y="283.40" font-size="8.6" text-anchor="middle" font-weight="normal" fill="#222" >20</text>
<line x1="277.05" y1="269.60" x2="277.05" y2="272.60" stroke="#1a1a1a" stroke-width="1" />
<text x="277.05" y="283.40" font-size="8.6" text-anchor="middle" font-weight="normal" fill="#222" >30</text>
<line x1="300.65" y1="269.60" x2="300.65" y2="272.60" stroke="#1a1a1a" stroke-width="1" />
<text x="300.65" y="283.40" font-size="8.6" text-anchor="middle" font-weight="normal" fill="#222" >40</text>
<line x1="324.25" y1="269.60" x2="324.25" y2="272.60" stroke="#1a1a1a" stroke-width="1" />
<text x="324.25" y="283.40" font-size="8.6" text-anchor="middle" font-weight="normal" fill="#222" >50</text>
<text x="266.50" y="296.80" font-size="9.4" text-anchor="middle" font-weight="bold" fill="#111" textLength="58" lengthAdjust="spacingAndGlyphs" >Days post-injection</text>
<text transform="translate(183.75,216.00) rotate(-90)" x="0" y="0" font-size="8.5" font-weight="bold" text-anchor="middle" fill="#111" textLength="44" lengthAdjust="spacingAndGlyphs">% CAR T cells</text>
<g clip-path="url(#clipC206)">
<path d="M206.25 260.34 L218.05 269.06 L236.93 266.88 L251.09 247.80" fill="none" stroke="#2b4c8c" stroke-width="1.05"/>
<path d="M206.25 266.33 L218.05 267.97 L236.93 265.79 L251.09 255.98 L267.61 248.62 L284.13 264.15 L312.45 264.70" fill="none" stroke="#2b4c8c" stroke-width="1.05"/>
<path d="M206.25 265.24 L218.05 267.42 L236.93 266.88 L251.09 254.89 L267.61 263.61 L284.13 267.97 L312.45 267.97" fill="none" stroke="#2b4c8c" stroke-width="1.05"/>
<path d="M206.25 266.88 L218.05 268.51 L236.93 264.70 L251.09 264.70 L267.61 258.97 L284.13 266.88 L312.45 266.33" fill="none" stroke="#2b4c8c" stroke-width="1.05"/>
<path d="M206.25 264.70 L218.05 266.88 L236.93 264.97 L251.09 266.88 L267.61 263.61 L284.13 268.51 L312.45 268.51" fill="none" stroke="#2b4c8c" stroke-width="1.05"/>
<path d="M206.25 267.97 L218.05 268.51 L236.93 267.97 L251.09 266.88 L267.61 264.70 L284.13 269.06 L312.45 269.06" fill="none" stroke="#2b4c8c" stroke-width="1.05"/>
</g>
<circle cx="206.25" cy="260.34" r="2.2" fill="#2b4c8c"/>
<circle cx="218.05" cy="269.06" r="2.2" fill="#2b4c8c"/>
<circle cx="236.93" cy="266.88" r="2.2" fill="#2b4c8c"/>
<circle cx="251.09" cy="247.80" r="2.2" fill="#2b4c8c"/>
<path d="M206.25 263.69 L208.89 266.33 L206.25 268.97 L203.61 266.33 Z" fill="#2b4c8c"/>
<path d="M218.05 265.33 L220.69 267.97 L218.05 270.61 L215.41 267.97 Z" fill="#2b4c8c"/>
<path d="M236.93 263.15 L239.57 265.79 L236.93 268.43 L234.29 265.79 Z" fill="#2b4c8c"/>
<path d="M251.09 253.34 L253.73 255.98 L251.09 258.62 L248.45 255.98 Z" fill="#2b4c8c"/>
<path d="M267.61 245.98 L270.25 248.62 L267.61 251.26 L264.97 248.62 Z" fill="#2b4c8c"/>
<path d="M284.13 261.51 L286.77 264.15 L284.13 266.79 L281.49 264.15 Z" fill="#2b4c8c"/>
<path d="M312.45 262.06 L315.09 264.70 L312.45 267.34 L309.81 264.70 Z" fill="#2b4c8c"/>
<circle cx="206.25" cy="265.24" r="2.2" fill="#2b4c8c"/>
<circle cx="218.05" cy="267.42" r="2.2" fill="#2b4c8c"/>
<circle cx="236.93" cy="266.88" r="2.2" fill="#2b4c8c"/>
<circle cx="251.09" cy="254.89" r="2.2" fill="#2b4c8c"/>
<circle cx="267.61" cy="263.61" r="2.2" fill="#2b4c8c"/>
<circle cx="284.13" cy="267.97" r="2.2" fill="#2b4c8c"/>
<circle cx="312.45" cy="267.97" r="2.2" fill="#2b4c8c"/>
<path d="M206.25 264.12 L208.89 268.86 L203.61 268.86 Z" fill="#2b4c8c"/>
<path d="M218.05 265.76 L220.69 270.49 L215.41 270.49 Z" fill="#2b4c8c"/>
<path d="M236.93 261.95 L239.57 266.68 L234.29 266.68 Z" fill="#2b4c8c"/>
<path d="M251.09 261.95 L253.73 266.68 L248.45 266.68 Z" fill="#2b4c8c"/>
<path d="M267.61 256.22 L270.25 260.95 L264.97 260.95 Z" fill="#2b4c8c"/>
<path d="M284.13 264.12 L286.77 268.86 L281.49 268.86 Z" fill="#2b4c8c"/>
<path d="M312.45 263.58 L315.09 268.31 L309.81 268.31 Z" fill="#2b4c8c"/>
<rect x="204.05" y="262.50" width="4.40" height="4.40" fill="#2b4c8c"/>
<rect x="215.85" y="264.68" width="4.40" height="4.40" fill="#2b4c8c"/>
<rect x="234.73" y="262.77" width="4.40" height="4.40" fill="#2b4c8c"/>
<rect x="248.89" y="264.68" width="4.40" height="4.40" fill="#2b4c8c"/>
<rect x="265.41" y="261.41" width="4.40" height="4.40" fill="#2b4c8c"/>
<rect x="281.93" y="266.31" width="4.40" height="4.40" fill="#2b4c8c"/>
<rect x="310.25" y="266.31" width="4.40" height="4.40" fill="#2b4c8c"/>
<rect x="204.05" y="265.77" width="4.40" height="4.40" fill="#2b4c8c"/>
<rect x="215.85" y="266.31" width="4.40" height="4.40" fill="#2b4c8c"/>
<rect x="234.73" y="265.77" width="4.40" height="4.40" fill="#2b4c8c"/>
<rect x="248.89" y="264.68" width="4.40" height="4.40" fill="#2b4c8c"/>
<rect x="265.41" y="262.50" width="4.40" height="4.40" fill="#2b4c8c"/>
<rect x="281.93" y="266.86" width="4.40" height="4.40" fill="#2b4c8c"/>
<rect x="310.25" y="266.86" width="4.40" height="4.40" fill="#2b4c8c"/>
<line x1="251.00" y1="228.30" x2="251.00" y2="238.00" stroke="#111" stroke-width="1" />
<path d="M248.8 235 L251.0 239.2 L253.2 235" fill="none" stroke="#111" stroke-width="1"/>
<line x1="267.50" y1="228.30" x2="267.50" y2="238.00" stroke="#111" stroke-width="1" />
<path d="M265.3 235 L267.5 239.2 L269.7 235" fill="none" stroke="#111" stroke-width="1"/>
<clipPath id="clipC376"><path d="M371.25 0 H506.25 V213.5 H371.25 Z M371.25 222 H506.25 V300 H371.25 Z"/></clipPath>
<text x="436.25" y="143.30" font-size="9.9" text-anchor="middle" font-weight="normal" fill="#111" textLength="80.5" lengthAdjust="spacingAndGlyphs" >TR66.opt-LV + IL-7</text>
<line x1="376.25" y1="162.10" x2="376.25" y2="214.30" stroke="#1a1a1a" stroke-width="1.1" />
<line x1="374.65" y1="214.30" x2="377.85" y2="214.30" stroke="#1a1a1a" stroke-width="1" />
<line x1="376.25" y1="221.00" x2="376.25" y2="270.10" stroke="#1a1a1a" stroke-width="1.1" />
<line x1="374.65" y1="221.00" x2="377.85" y2="221.00" stroke="#1a1a1a" stroke-width="1" />
<line x1="375.75" y1="269.60" x2="497.25" y2="269.60" stroke="#1a1a1a" stroke-width="1.2" />
<line x1="373.05" y1="165.40" x2="376.25" y2="165.40" stroke="#1a1a1a" stroke-width="1" />
<text x="369.65" y="168.20" font-size="8.5" text-anchor="end" font-weight="normal" fill="#222" >25</text>
<line x1="373.05" y1="181.60" x2="376.25" y2="181.60" stroke="#1a1a1a" stroke-width="1" />
<text x="369.65" y="184.40" font-size="8.5" text-anchor="end" font-weight="normal" fill="#222" >20</text>
<line x1="373.05" y1="198.00" x2="376.25" y2="198.00" stroke="#1a1a1a" stroke-width="1" />
<text x="369.65" y="200.80" font-size="8.5" text-anchor="end" font-weight="normal" fill="#222" >15</text>
<line x1="373.05" y1="214.30" x2="376.25" y2="214.30" stroke="#1a1a1a" stroke-width="1" />
<text x="369.65" y="217.10" font-size="8.5" text-anchor="end" font-weight="normal" fill="#222" >10</text>
<line x1="373.05" y1="226.00" x2="376.25" y2="226.00" stroke="#1a1a1a" stroke-width="1" />
<text x="369.65" y="228.80" font-size="8.5" text-anchor="end" font-weight="normal" fill="#222" >8</text>
<line x1="373.05" y1="236.90" x2="376.25" y2="236.90" stroke="#1a1a1a" stroke-width="1" />
<text x="369.65" y="239.70" font-size="8.5" text-anchor="end" font-weight="normal" fill="#222" >6</text>
<line x1="373.05" y1="247.80" x2="376.25" y2="247.80" stroke="#1a1a1a" stroke-width="1" />
<text x="369.65" y="250.60" font-size="8.5" text-anchor="end" font-weight="normal" fill="#222" >4</text>
<line x1="373.05" y1="258.70" x2="376.25" y2="258.70" stroke="#1a1a1a" stroke-width="1" />
<text x="369.65" y="261.50" font-size="8.5" text-anchor="end" font-weight="normal" fill="#222" >2</text>
<line x1="373.05" y1="269.60" x2="376.25" y2="269.60" stroke="#1a1a1a" stroke-width="1" />
<text x="369.65" y="272.40" font-size="8.5" text-anchor="end" font-weight="normal" fill="#222" >0</text>
<line x1="376.25" y1="269.60" x2="376.25" y2="272.60" stroke="#1a1a1a" stroke-width="1" />
<text x="376.25" y="283.40" font-size="8.6" text-anchor="middle" font-weight="normal" fill="#222" >0</text>
<line x1="399.85" y1="269.60" x2="399.85" y2="272.60" stroke="#1a1a1a" stroke-width="1" />
<text x="399.85" y="283.40" font-size="8.6" text-anchor="middle" font-weight="normal" fill="#222" >10</text>
<line x1="423.45" y1="269.60" x2="423.45" y2="272.60" stroke="#1a1a1a" stroke-width="1" />
<text x="423.45" y="283.40" font-size="8.6" text-anchor="middle" font-weight="normal" fill="#222" >20</text>
<line x1="447.05" y1="269.60" x2="447.05" y2="272.60" stroke="#1a1a1a" stroke-width="1" />
<text x="447.05" y="283.40" font-size="8.6" text-anchor="middle" font-weight="normal" fill="#222" >30</text>
<line x1="470.65" y1="269.60" x2="470.65" y2="272.60" stroke="#1a1a1a" stroke-width="1" />
<text x="470.65" y="283.40" font-size="8.6" text-anchor="middle" font-weight="normal" fill="#222" >40</text>
<line x1="494.25" y1="269.60" x2="494.25" y2="272.60" stroke="#1a1a1a" stroke-width="1" />
<text x="494.25" y="283.40" font-size="8.6" text-anchor="middle" font-weight="normal" fill="#222" >50</text>
<text x="436.50" y="296.80" font-size="9.4" text-anchor="middle" font-weight="bold" fill="#111" textLength="58" lengthAdjust="spacingAndGlyphs" >Days post-injection</text>
<text transform="translate(353.75,216.00) rotate(-90)" x="0" y="0" font-size="8.5" font-weight="bold" text-anchor="middle" fill="#111" textLength="44" lengthAdjust="spacingAndGlyphs">% CAR T cells</text>
<g clip-path="url(#clipC376)">
<path d="M376.25 263.06 L388.05 266.33 L406.93 267.42 L421.09 172.02 L437.61 174.77 L454.13 259.25 L482.45 261.43" fill="none" stroke="#6aae4a" stroke-width="1.05"/>
<path d="M376.25 260.88 L388.05 265.24 L406.93 267.97 L421.09 181.90" fill="none" stroke="#6aae4a" stroke-width="1.05"/>
<path d="M376.25 264.15 L388.05 264.70 L406.93 263.06 L421.09 257.61 L437.61 232.54 L454.13 266.88 L482.45 267.97" fill="none" stroke="#6aae4a" stroke-width="1.05"/>
<path d="M376.25 265.24 L388.05 267.97 L406.93 266.88 L421.09 254.34 L437.61 261.43 L454.13 264.15 L482.45 268.51" fill="none" stroke="#6aae4a" stroke-width="1.05"/>
<path d="M376.25 261.97 L388.05 266.88 L406.93 264.70 L421.09 261.43 L437.61 261.43 L454.13 267.97 L482.45 268.51" fill="none" stroke="#6aae4a" stroke-width="1.05"/>
<path d="M376.25 266.33 L388.05 268.51 L406.93 268.51 L421.09 259.25 L437.61 263.06 L454.13 268.51 L482.45 269.06" fill="none" stroke="#6aae4a" stroke-width="1.05"/>
</g>
<path d="M376.25 260.42 L378.89 263.06 L376.25 265.70 L373.61 263.06 Z" fill="#6aae4a"/>
<path d="M388.05 263.69 L390.69 266.33 L388.05 268.97 L385.41 266.33 Z" fill="#6aae4a"/>
<path d="M406.93 264.78 L409.57 267.42 L406.93 270.06 L404.29 267.42 Z" fill="#6aae4a"/>
<path d="M421.09 169.38 L423.73 172.02 L421.09 174.66 L418.45 172.02 Z" fill="#6aae4a"/>
<path d="M437.61 172.13 L440.25 174.77 L437.61 177.41 L434.97 174.77 Z" fill="#6aae4a"/>
<path d="M454.13 256.61 L456.77 259.25 L454.13 261.88 L451.49 259.25 Z" fill="#6aae4a"/>
<path d="M482.45 258.79 L485.09 261.43 L482.45 264.06 L479.81 261.43 Z" fill="#6aae4a"/>
<path d="M376.25 258.13 L378.89 262.86 L373.61 262.86 Z" fill="#6aae4a"/>
<path d="M388.05 262.49 L390.69 267.22 L385.41 267.22 Z" fill="#6aae4a"/>
<path d="M406.93 265.22 L409.57 269.95 L404.29 269.95 Z" fill="#6aae4a"/>
<path d="M421.09 179.15 L423.73 183.88 L418.45 183.88 Z" fill="#6aae4a"/>
<circle cx="376.25" cy="264.15" r="2.2" fill="#6aae4a"/>
<circle cx="388.05" cy="264.70" r="2.2" fill="#6aae4a"/>
<circle cx="406.93" cy="263.06" r="2.2" fill="#6aae4a"/>
<circle cx="421.09" cy="257.61" r="2.2" fill="#6aae4a"/>
<circle cx="437.61" cy="232.54" r="2.2" fill="#6aae4a"/>
<circle cx="454.13" cy="266.88" r="2.2" fill="#6aae4a"/>
<circle cx="482.45" cy="267.97" r="2.2" fill="#6aae4a"/>
<path d="M376.25 262.60 L378.89 265.24 L376.25 267.88 L373.61 265.24 Z" fill="#6aae4a"/>
<path d="M388.05 265.33 L390.69 267.97 L388.05 270.61 L385.41 267.97 Z" fill="#6aae4a"/>
<path d="M406.93 264.24 L409.57 266.88 L406.93 269.51 L404.29 266.88 Z" fill="#6aae4a"/>
<path d="M421.09 251.70 L423.73 254.34 L421.09 256.98 L418.45 254.34 Z" fill="#6aae4a"/>
<path d="M437.61 258.79 L440.25 261.43 L437.61 264.06 L434.97 261.43 Z" fill="#6aae4a"/>
<path d="M454.13 261.51 L456.77 264.15 L454.13 266.79 L451.49 264.15 Z" fill="#6aae4a"/>
<path d="M482.45 265.87 L485.09 268.51 L482.45 271.15 L479.81 268.51 Z" fill="#6aae4a"/>
<rect x="374.05" y="259.77" width="4.40" height="4.40" fill="#6aae4a"/>
<rect x="385.85" y="264.68" width="4.40" height="4.40" fill="#6aae4a"/>
<rect x="404.73" y="262.50" width="4.40" height="4.40" fill="#6aae4a"/>
<rect x="418.89" y="259.23" width="4.40" height="4.40" fill="#6aae4a"/>
<rect x="435.41" y="259.23" width="4.40" height="4.40" fill="#6aae4a"/>
<rect x="451.93" y="265.77" width="4.40" height="4.40" fill="#6aae4a"/>
<rect x="480.25" y="266.31" width="4.40" height="4.40" fill="#6aae4a"/>
<circle cx="376.25" cy="266.33" r="2.2" fill="#6aae4a"/>
<circle cx="388.05" cy="268.51" r="2.2" fill="#6aae4a"/>
<circle cx="406.93" cy="268.51" r="2.2" fill="#6aae4a"/>
<circle cx="421.09" cy="259.25" r="2.2" fill="#6aae4a"/>
<circle cx="437.61" cy="263.06" r="2.2" fill="#6aae4a"/>
<circle cx="454.13" cy="268.51" r="2.2" fill="#6aae4a"/>
<circle cx="482.45" cy="269.06" r="2.2" fill="#6aae4a"/>
<text x="420.40" y="154.80" font-size="7.5" text-anchor="middle" font-weight="bold" fill="#222" >***</text>
<text x="421.50" y="163.20" font-size="7.5" text-anchor="middle" font-weight="normal" fill="#222" textLength="9.5" lengthAdjust="spacingAndGlyphs" >##</text>
<text x="437.30" y="159.10" font-size="7.5" text-anchor="middle" font-weight="bold" fill="#222" >*</text>
<text x="436.80" y="167.00" font-size="7.5" text-anchor="middle" font-weight="normal" fill="#222" >#</text>
<line x1="36.75" y1="331.50" x2="36.75" y2="385.40" stroke="#1a1a1a" stroke-width="1.1" />
<line x1="35.15" y1="385.40" x2="38.35" y2="385.40" stroke="#1a1a1a" stroke-width="1" />
<line x1="36.75" y1="393.10" x2="36.75" y2="443.60" stroke="#1a1a1a" stroke-width="1.1" />
<line x1="35.15" y1="393.10" x2="38.35" y2="393.10" stroke="#1a1a1a" stroke-width="1" />
<line x1="36.25" y1="443.10" x2="234.60" y2="443.10" stroke="#1a1a1a" stroke-width="1.2" />
<line x1="33.55" y1="335.40" x2="36.75" y2="335.40" stroke="#1a1a1a" stroke-width="1" />
<text x="30.15" y="338.20" font-size="8.5" text-anchor="end" font-weight="normal" fill="#222" >25</text>
<line x1="33.55" y1="347.90" x2="36.75" y2="347.90" stroke="#1a1a1a" stroke-width="1" />
<text x="30.15" y="350.70" font-size="8.5" text-anchor="end" font-weight="normal" fill="#222" >20</text>
<line x1="33.55" y1="360.40" x2="36.75" y2="360.40" stroke="#1a1a1a" stroke-width="1" />
<text x="30.15" y="363.20" font-size="8.5" text-anchor="end" font-weight="normal" fill="#222" >15</text>
<line x1="33.55" y1="372.90" x2="36.75" y2="372.90" stroke="#1a1a1a" stroke-width="1" />
<text x="30.15" y="375.70" font-size="8.5" text-anchor="end" font-weight="normal" fill="#222" >10</text>
<line x1="33.55" y1="393.10" x2="36.75" y2="393.10" stroke="#1a1a1a" stroke-width="1" />
<text x="30.15" y="395.90" font-size="8.5" text-anchor="end" font-weight="normal" fill="#222" >5</text>
<line x1="33.55" y1="403.10" x2="36.75" y2="403.10" stroke="#1a1a1a" stroke-width="1" />
<text x="30.15" y="405.90" font-size="8.5" text-anchor="end" font-weight="normal" fill="#222" >4</text>
<line x1="33.55" y1="413.10" x2="36.75" y2="413.10" stroke="#1a1a1a" stroke-width="1" />
<text x="30.15" y="415.90" font-size="8.5" text-anchor="end" font-weight="normal" fill="#222" >3</text>
<line x1="33.55" y1="423.10" x2="36.75" y2="423.10" stroke="#1a1a1a" stroke-width="1" />
<text x="30.15" y="425.90" font-size="8.5" text-anchor="end" font-weight="normal" fill="#222" >2</text>
<line x1="33.55" y1="433.10" x2="36.75" y2="433.10" stroke="#1a1a1a" stroke-width="1" />
<text x="30.15" y="435.90" font-size="8.5" text-anchor="end" font-weight="normal" fill="#222" >1</text>
<line x1="33.55" y1="443.10" x2="36.75" y2="443.10" stroke="#1a1a1a" stroke-width="1" />
<text x="30.15" y="445.90" font-size="8.5" text-anchor="end" font-weight="normal" fill="#222" >0</text>
<line x1="50.10" y1="443.10" x2="50.10" y2="446.00" stroke="#1a1a1a" stroke-width="1" />
<text transform="translate(52.90,455.30) rotate(-45)" x="0" y="0" font-size="8.4" text-anchor="end" fill="#222">group 1</text>
<line x1="70.70" y1="443.10" x2="70.70" y2="446.00" stroke="#1a1a1a" stroke-width="1" />
<text transform="translate(73.50,455.30) rotate(-45)" x="0" y="0" font-size="8.4" text-anchor="end" fill="#222">group 2</text>
<line x1="91.20" y1="443.10" x2="91.20" y2="446.00" stroke="#1a1a1a" stroke-width="1" />
<text transform="translate(94.00,455.30) rotate(-45)" x="0" y="0" font-size="8.4" text-anchor="end" fill="#222">group 3</text>
<line x1="114.80" y1="443.10" x2="114.80" y2="446.00" stroke="#1a1a1a" stroke-width="1" />
<text transform="translate(117.60,455.30) rotate(-45)" x="0" y="0" font-size="8.4" text-anchor="end" fill="#222">group 1</text>
<line x1="135.00" y1="443.10" x2="135.00" y2="446.00" stroke="#1a1a1a" stroke-width="1" />
<text transform="translate(137.80,455.30) rotate(-45)" x="0" y="0" font-size="8.4" text-anchor="end" fill="#222">group 2</text>
<line x1="155.20" y1="443.10" x2="155.20" y2="446.00" stroke="#1a1a1a" stroke-width="1" />
<text transform="translate(158.00,455.30) rotate(-45)" x="0" y="0" font-size="8.4" text-anchor="end" fill="#222">group 3</text>
<line x1="178.00" y1="443.10" x2="178.00" y2="446.00" stroke="#1a1a1a" stroke-width="1" />
<text transform="translate(180.80,455.30) rotate(-45)" x="0" y="0" font-size="8.4" text-anchor="end" fill="#222">group 1</text>
<line x1="199.60" y1="443.10" x2="199.60" y2="446.00" stroke="#1a1a1a" stroke-width="1" />
<text transform="translate(202.40,455.30) rotate(-45)" x="0" y="0" font-size="8.4" text-anchor="end" fill="#222">group 2</text>
<line x1="219.80" y1="443.10" x2="219.80" y2="446.00" stroke="#1a1a1a" stroke-width="1" />
<text transform="translate(222.60,455.30) rotate(-45)" x="0" y="0" font-size="8.4" text-anchor="end" fill="#222">group 3</text>
<line x1="102.50" y1="333.60" x2="102.50" y2="442.50" stroke="#777" stroke-width="1.0" stroke-dasharray="1,1"/>
<line x1="166.50" y1="333.60" x2="166.50" y2="442.50" stroke="#777" stroke-width="1.0" stroke-dasharray="1,1"/>
<text x="70.70" y="326.60" font-size="8.8" text-anchor="middle" font-weight="normal" fill="#111" >CD3<tspan dy="-3.2" font-size="6.5">+</tspan><tspan dy="3.2">CD45</tspan><tspan dy="-3.2" font-size="6.5">+</tspan></text>
<text x="135.00" y="326.60" font-size="8.8" text-anchor="middle" font-weight="normal" fill="#111" >CD45<tspan dy="-3.2" font-size="6.5">-</tspan></text>
<text x="198.80" y="326.60" font-size="8.8" text-anchor="middle" font-weight="normal" fill="#111" >CD3<tspan dy="-3.2" font-size="6.5">-</tspan><tspan dy="3.2">CD45</tspan><tspan dy="-3.2" font-size="6.5">+</tspan></text>
<text transform="translate(13.50,392.90) rotate(-90)" x="0" y="0" font-size="9.2" font-weight="bold" text-anchor="middle" fill="#111" textLength="63.8" lengthAdjust="spacingAndGlyphs">% CAR-positive cells</text>
<circle cx="46.90" cy="434.40" r="3.0" fill="#c6c6ca"/>
<circle cx="54.30" cy="439.00" r="3.0" fill="#c6c6ca"/>
<circle cx="46.70" cy="440.90" r="3.0" fill="#c6c6ca"/>
<circle cx="50.50" cy="442.00" r="3.0" fill="#c6c6ca"/>
<circle cx="43.50" cy="441.50" r="3.0" fill="#c6c6ca"/>
<circle cx="51.00" cy="438.00" r="3.0" fill="#c6c6ca"/>
<path d="M70.70 407.23 L74.18 400.99 L67.22 400.99 Z" fill="#2b4c8c"/>
<path d="M74.30 420.43 L77.78 414.19 L70.82 414.19 Z" fill="#2b4c8c"/>
<path d="M67.10 424.43 L70.58 418.19 L63.62 418.19 Z" fill="#2b4c8c"/>
<path d="M74.30 437.43 L77.78 431.19 L70.82 431.19 Z" fill="#2b4c8c"/>
<path d="M67.10 442.43 L70.58 436.19 L63.62 436.19 Z" fill="#2b4c8c"/>
<line x1="64.00" y1="420.80" x2="77.60" y2="420.80" stroke="#2b4c8c" stroke-width="1.1" />
<path d="M91.10 336.68 L94.58 342.91 L87.62 342.91 Z" fill="#6aae4a"/>
<path d="M91.10 343.88 L94.58 350.11 L87.62 350.11 Z" fill="#6aae4a"/>
<path d="M91.10 410.77 L94.58 417.01 L87.62 417.01 Z" fill="#6aae4a"/>
<path d="M91.10 418.38 L94.58 424.61 L87.62 424.61 Z" fill="#6aae4a"/>
<path d="M87.50 425.18 L90.98 431.41 L84.02 431.41 Z" fill="#6aae4a"/>
<path d="M94.70 425.18 L98.18 431.41 L91.22 431.41 Z" fill="#6aae4a"/>
<line x1="84.30" y1="418.50" x2="98.00" y2="418.50" stroke="#6aae4a" stroke-width="1.1" />
<circle cx="111.00" cy="441.50" r="3.0" fill="#c6c6ca"/>
<circle cx="114.50" cy="439.80" r="3.0" fill="#c6c6ca"/>
<circle cx="118.00" cy="441.50" r="3.0" fill="#c6c6ca"/>
<circle cx="112.50" cy="443.00" r="3.0" fill="#c6c6ca"/>
<circle cx="117.00" cy="443.00" r="3.0" fill="#c6c6ca"/>
<path d="M131.00 445.18 L134.24 439.37 L127.76 439.37 Z" fill="#2b4c8c"/>
<path d="M135.00 445.18 L138.24 439.37 L131.76 439.37 Z" fill="#2b4c8c"/>
<path d="M139.00 445.18 L142.24 439.37 L135.76 439.37 Z" fill="#2b4c8c"/>
<path d="M133.00 446.57 L136.24 440.77 L129.76 440.77 Z" fill="#2b4c8c"/>
<path d="M137.00 446.57 L140.24 440.77 L133.76 440.77 Z" fill="#2b4c8c"/>
<path d="M153.50 437.45 L157.10 443.90 L149.90 443.90 Z" fill="#6aae4a"/>
<path d="M158.50 438.85 L162.10 445.30 L154.90 445.30 Z" fill="#6aae4a"/>
<path d="M150.50 439.25 L154.10 445.70 L146.90 445.70 Z" fill="#6aae4a"/>
<path d="M155.00 439.75 L158.60 446.20 L151.40 446.20 Z" fill="#6aae4a"/>
<circle cx="176.00" cy="436.50" r="3.0" fill="#c6c6ca"/>
<circle cx="182.00" cy="438.50" r="3.0" fill="#c6c6ca"/>
<circle cx="175.00" cy="441.00" r="3.0" fill="#c6c6ca"/>
<circle cx="180.50" cy="442.00" r="3.0" fill="#c6c6ca"/>
<path d="M199.00 441.88 L202.24 436.07 L195.76 436.07 Z" fill="#2b4c8c"/>
<path d="M195.00 444.38 L198.24 438.57 L191.76 438.57 Z" fill="#2b4c8c"/>
<path d="M203.00 444.38 L206.24 438.57 L199.76 438.57 Z" fill="#2b4c8c"/>
<path d="M199.00 446.57 L202.24 440.77 L195.76 440.77 Z" fill="#2b4c8c"/>
<path d="M219.75 423.38 L223.23 429.61 L216.27 429.61 Z" fill="#6aae4a"/>
<path d="M216.00 437.88 L219.48 444.11 L212.52 444.11 Z" fill="#6aae4a"/>
<path d="M222.00 437.18 L225.48 443.41 L218.52 443.41 Z" fill="#6aae4a"/>
<path d="M219.00 439.88 L222.48 446.11 L215.52 446.11 Z" fill="#6aae4a"/>
<line x1="212.50" y1="442.00" x2="227.00" y2="442.00" stroke="#6aae4a" stroke-width="1.0" />
<text x="303.20" y="340.20" font-size="10.4" text-anchor="middle" font-weight="normal" fill="#111" textLength="16.2" lengthAdjust="spacingAndGlyphs" stroke="#111" stroke-width="0.1">IL-7</text>
<text x="377.60" y="340.20" font-size="10.4" text-anchor="middle" font-weight="normal" fill="#111" textLength="53" lengthAdjust="spacingAndGlyphs" stroke="#111" stroke-width="0.1">TR66.opt-LV</text>
<text x="456.40" y="340.20" font-size="10.4" text-anchor="middle" font-weight="normal" fill="#111" textLength="80.8" lengthAdjust="spacingAndGlyphs" stroke="#111" stroke-width="0.1">TR66.opt-LV + IL-7</text>
<circle cx="273.2" cy="406.1" r="0.35" fill="#999" fill-opacity="0.5"/>
<circle cx="294.5" cy="372.0" r="0.35" fill="#999" fill-opacity="0.5"/>
<circle cx="299.9" cy="410.2" r="0.35" fill="#999" fill-opacity="0.5"/>
<circle cx="284.2" cy="358.4" r="0.35" fill="#999" fill-opacity="0.5"/>
<circle cx="298.5" cy="365.5" r="0.35" fill="#999" fill-opacity="0.5"/>
<circle cx="275.5" cy="360.5" r="0.35" fill="#999" fill-opacity="0.5"/>
<circle cx="272.3" cy="363.1" r="0.35" fill="#999" fill-opacity="0.5"/>
<circle cx="286.7" cy="369.8" r="0.35" fill="#999" fill-opacity="0.5"/>
<circle cx="311.3" cy="368.8" r="0.35" fill="#999" fill-opacity="0.5"/>
<circle cx="297.0" cy="361.6" r="0.35" fill="#999" fill-opacity="0.5"/>
<circle cx="288.6" cy="351.2" r="0.35" fill="#999" fill-opacity="0.5"/>
<circle cx="283.3" cy="351.0" r="0.35" fill="#999" fill-opacity="0.5"/>
<circle cx="309.8" cy="385.8" r="0.35" fill="#999" fill-opacity="0.5"/>
<circle cx="279.9" cy="380.9" r="0.35" fill="#999" fill-opacity="0.5"/>
<circle cx="320.9" cy="356.9" r="0.35" fill="#999" fill-opacity="0.5"/>
<circle cx="314.5" cy="378.1" r="0.35" fill="#999" fill-opacity="0.5"/>
<circle cx="296.7" cy="404.2" r="0.35" fill="#999" fill-opacity="0.5"/>
<circle cx="291.1" cy="382.9" r="0.35" fill="#999" fill-opacity="0.5"/>
<circle cx="307.3" cy="413.9" r="0.35" fill="#999" fill-opacity="0.5"/>
<circle cx="288.3" cy="404.1" r="0.35" fill="#999" fill-opacity="0.5"/>
<circle cx="308.4" cy="391.3" r="0.35" fill="#999" fill-opacity="0.5"/>
<circle cx="291.8" cy="372.6" r="0.35" fill="#999" fill-opacity="0.5"/>
<circle cx="272.5" cy="358.4" r="0.35" fill="#999" fill-opacity="0.5"/>
<circle cx="273.4" cy="398.2" r="0.35" fill="#999" fill-opacity="0.5"/>
<circle cx="283.6" cy="360.6" r="0.35" fill="#999" fill-opacity="0.5"/>
<circle cx="300.7" cy="363.2" r="0.4" fill="#888" fill-opacity="0.5"/>
<circle cx="298.8" cy="352.7" r="0.4" fill="#888" fill-opacity="0.5"/>
<circle cx="291.7" cy="365.7" r="0.4" fill="#888" fill-opacity="0.5"/>
<circle cx="291.0" cy="366.2" r="0.4" fill="#888" fill-opacity="0.5"/>
<circle cx="297.3" cy="365.1" r="0.4" fill="#888" fill-opacity="0.5"/>
<circle cx="292.3" cy="367.8" r="0.4" fill="#888" fill-opacity="0.5"/>
<circle cx="300.9" cy="357.4" r="0.4" fill="#888" fill-opacity="0.5"/>
<circle cx="293.4" cy="367.8" r="0.4" fill="#888" fill-opacity="0.5"/>
<circle cx="290.4" cy="365.6" r="0.4" fill="#888" fill-opacity="0.5"/>
<circle cx="300.6" cy="358.8" r="0.4" fill="#888" fill-opacity="0.5"/>
<circle cx="285.4" cy="360.0" r="0.4" fill="#888" fill-opacity="0.5"/>
<circle cx="295.5" cy="366.2" r="0.4" fill="#888" fill-opacity="0.5"/>
<circle cx="300.2" cy="359.0" r="0.4" fill="#888" fill-opacity="0.5"/>
<circle cx="299.5" cy="362.8" r="0.4" fill="#888" fill-opacity="0.5"/>
<circle cx="299.3" cy="360.4" r="0.4" fill="#888" fill-opacity="0.5"/>
<circle cx="290.7" cy="365.4" r="0.4" fill="#888" fill-opacity="0.5"/>
<circle cx="286.3" cy="354.7" r="0.4" fill="#888" fill-opacity="0.5"/>
<circle cx="293.1" cy="350.5" r="0.4" fill="#888" fill-opacity="0.5"/>
<circle cx="291.2" cy="350.1" r="0.4" fill="#888" fill-opacity="0.5"/>
<circle cx="287.5" cy="363.4" r="0.4" fill="#888" fill-opacity="0.5"/>
<circle cx="299.9" cy="358.1" r="0.4" fill="#888" fill-opacity="0.5"/>
<circle cx="291.8" cy="350.7" r="0.4" fill="#888" fill-opacity="0.5"/>
<circle cx="301.5" cy="361.1" r="0.4" fill="#888" fill-opacity="0.5"/>
<circle cx="299.4" cy="353.6" r="0.4" fill="#888" fill-opacity="0.5"/>
<circle cx="292.2" cy="350.1" r="0.4" fill="#888" fill-opacity="0.5"/>
<circle cx="298.1" cy="364.8" r="0.4" fill="#888" fill-opacity="0.5"/>
<circle cx="284.4" cy="358.5" r="0.4" fill="#888" fill-opacity="0.5"/>
<circle cx="296.0" cy="350.5" r="0.4" fill="#888" fill-opacity="0.5"/>
<circle cx="285.4" cy="354.3" r="0.4" fill="#888" fill-opacity="0.5"/>
<circle cx="289.7" cy="351.1" r="0.4" fill="#888" fill-opacity="0.5"/>
<circle cx="293.9" cy="365.2" r="0.4" fill="#888" fill-opacity="0.5"/>
<circle cx="298.1" cy="364.2" r="0.4" fill="#888" fill-opacity="0.5"/>
<circle cx="300.0" cy="364.1" r="0.4" fill="#888" fill-opacity="0.5"/>
<circle cx="285.5" cy="355.8" r="0.4" fill="#888" fill-opacity="0.5"/>
<circle cx="287.3" cy="352.8" r="0.4" fill="#888" fill-opacity="0.5"/>
<circle cx="286.7" cy="359.2" r="0.4" fill="#888" fill-opacity="0.5"/>
<circle cx="295.6" cy="350.6" r="0.4" fill="#888" fill-opacity="0.5"/>
<circle cx="285.2" cy="358.6" r="0.4" fill="#888" fill-opacity="0.5"/>
<circle cx="289.5" cy="353.2" r="0.4" fill="#888" fill-opacity="0.5"/>
<circle cx="292.5" cy="351.7" r="0.4" fill="#888" fill-opacity="0.5"/>
<circle cx="289.7" cy="404.7" r="0.4" fill="#777" fill-opacity="0.55"/>
<circle cx="284.1" cy="380.9" r="0.4" fill="#777" fill-opacity="0.55"/>
<circle cx="285.2" cy="376.5" r="0.4" fill="#777" fill-opacity="0.55"/>
<circle cx="273.3" cy="395.4" r="0.4" fill="#777" fill-opacity="0.55"/>
<circle cx="272.1" cy="397.1" r="0.4" fill="#777" fill-opacity="0.55"/>
<circle cx="286.7" cy="378.8" r="0.4" fill="#777" fill-opacity="0.55"/>
<circle cx="279.4" cy="384.0" r="0.4" fill="#777" fill-opacity="0.55"/>
<circle cx="286.2" cy="409.7" r="0.4" fill="#777" fill-opacity="0.55"/>
<circle cx="284.9" cy="380.3" r="0.4" fill="#777" fill-opacity="0.55"/>
<circle cx="276.3" cy="389.2" r="0.4" fill="#777" fill-opacity="0.55"/>
<circle cx="290.2" cy="403.5" r="0.4" fill="#777" fill-opacity="0.55"/>
<circle cx="280.4" cy="379.5" r="0.4" fill="#777" fill-opacity="0.55"/>
<circle cx="281.0" cy="381.5" r="0.4" fill="#777" fill-opacity="0.55"/>
<circle cx="273.5" cy="393.0" r="0.4" fill="#777" fill-opacity="0.55"/>
<circle cx="274.0" cy="398.1" r="0.4" fill="#777" fill-opacity="0.55"/>
<circle cx="291.2" cy="387.9" r="0.4" fill="#777" fill-opacity="0.55"/>
<circle cx="294.3" cy="395.4" r="0.4" fill="#777" fill-opacity="0.55"/>
<circle cx="292.1" cy="399.7" r="0.4" fill="#777" fill-opacity="0.55"/>
<circle cx="290.4" cy="379.2" r="0.4" fill="#777" fill-opacity="0.55"/>
<circle cx="273.5" cy="399.9" r="0.4" fill="#777" fill-opacity="0.55"/>
<circle cx="282.6" cy="415.7" r="0.4" fill="#777" fill-opacity="0.55"/>
<circle cx="282.6" cy="413.7" r="0.4" fill="#777" fill-opacity="0.55"/>
<circle cx="286.9" cy="410.7" r="0.4" fill="#777" fill-opacity="0.55"/>
<circle cx="291.7" cy="393.2" r="0.4" fill="#777" fill-opacity="0.55"/>
<circle cx="289.4" cy="381.5" r="0.4" fill="#777" fill-opacity="0.55"/>
<circle cx="292.6" cy="385.7" r="0.4" fill="#777" fill-opacity="0.55"/>
<circle cx="281.1" cy="415.7" r="0.4" fill="#777" fill-opacity="0.55"/>
<circle cx="274.4" cy="396.3" r="0.4" fill="#777" fill-opacity="0.55"/>
<circle cx="292.5" cy="398.2" r="0.4" fill="#777" fill-opacity="0.55"/>
<circle cx="273.3" cy="399.8" r="0.4" fill="#777" fill-opacity="0.55"/>
<circle cx="286.7" cy="409.7" r="0.4" fill="#777" fill-opacity="0.55"/>
<circle cx="275.7" cy="413.0" r="0.4" fill="#777" fill-opacity="0.55"/>
<circle cx="293.3" cy="398.2" r="0.4" fill="#777" fill-opacity="0.55"/>
<circle cx="289.3" cy="384.4" r="0.4" fill="#777" fill-opacity="0.55"/>
<circle cx="293.5" cy="389.6" r="0.4" fill="#777" fill-opacity="0.55"/>
<circle cx="291.7" cy="388.3" r="0.4" fill="#777" fill-opacity="0.55"/>
<circle cx="274.4" cy="407.1" r="0.4" fill="#777" fill-opacity="0.55"/>
<circle cx="292.9" cy="397.8" r="0.4" fill="#777" fill-opacity="0.55"/>
<circle cx="274.7" cy="408.1" r="0.4" fill="#777" fill-opacity="0.55"/>
<circle cx="279.2" cy="410.4" r="0.4" fill="#777" fill-opacity="0.55"/>
<circle cx="289.7" cy="409.0" r="0.4" fill="#777" fill-opacity="0.55"/>
<circle cx="277.3" cy="415.0" r="0.4" fill="#777" fill-opacity="0.55"/>
<circle cx="280.3" cy="412.0" r="0.4" fill="#777" fill-opacity="0.55"/>
<circle cx="274.2" cy="393.9" r="0.4" fill="#777" fill-opacity="0.55"/>
<circle cx="272.7" cy="409.1" r="0.4" fill="#777" fill-opacity="0.55"/>
<circle cx="292.8" cy="385.1" r="0.4" fill="#777" fill-opacity="0.55"/>
<circle cx="277.5" cy="380.9" r="0.4" fill="#777" fill-opacity="0.55"/>
<circle cx="293.0" cy="391.4" r="0.4" fill="#777" fill-opacity="0.55"/>
<circle cx="283.5" cy="381.8" r="0.4" fill="#777" fill-opacity="0.55"/>
<circle cx="284.4" cy="379.4" r="0.4" fill="#777" fill-opacity="0.55"/>
<circle cx="285.8" cy="378.4" r="0.4" fill="#777" fill-opacity="0.55"/>
<circle cx="278.7" cy="410.1" r="0.4" fill="#777" fill-opacity="0.55"/>
<circle cx="291.5" cy="390.9" r="0.4" fill="#777" fill-opacity="0.55"/>
<circle cx="273.2" cy="397.7" r="0.4" fill="#777" fill-opacity="0.55"/>
<circle cx="276.9" cy="413.4" r="0.4" fill="#777" fill-opacity="0.55"/>
<circle cx="292.1" cy="395.4" r="0.4" fill="#777" fill-opacity="0.55"/>
<circle cx="279.8" cy="382.3" r="0.4" fill="#777" fill-opacity="0.55"/>
<circle cx="274.9" cy="389.1" r="0.4" fill="#777" fill-opacity="0.55"/>
<circle cx="285.0" cy="410.1" r="0.4" fill="#777" fill-opacity="0.55"/>
<circle cx="282.7" cy="415.5" r="0.4" fill="#777" fill-opacity="0.55"/>
<circle cx="273.9" cy="395.2" r="0.4" fill="#777" fill-opacity="0.55"/>
<circle cx="294.0" cy="386.7" r="0.4" fill="#777" fill-opacity="0.55"/>
<circle cx="273.9" cy="399.6" r="0.4" fill="#777" fill-opacity="0.55"/>
<circle cx="283.6" cy="410.6" r="0.4" fill="#777" fill-opacity="0.55"/>
<circle cx="276.2" cy="407.9" r="0.4" fill="#777" fill-opacity="0.55"/>
<circle cx="280.9" cy="412.1" r="0.4" fill="#777" fill-opacity="0.55"/>
<circle cx="274.1" cy="386.6" r="0.4" fill="#777" fill-opacity="0.55"/>
<circle cx="285.4" cy="379.7" r="0.4" fill="#777" fill-opacity="0.55"/>
<circle cx="273.0" cy="403.8" r="0.4" fill="#777" fill-opacity="0.55"/>
<circle cx="274.4" cy="406.5" r="0.4" fill="#777" fill-opacity="0.55"/>
<circle cx="290.2" cy="403.6" r="0.4" fill="#777" fill-opacity="0.55"/>
<circle cx="291.6" cy="394.6" r="0.4" fill="#777" fill-opacity="0.55"/>
<circle cx="272.7" cy="394.3" r="0.4" fill="#777" fill-opacity="0.55"/>
<circle cx="290.4" cy="385.5" r="0.4" fill="#777" fill-opacity="0.55"/>
<circle cx="279.2" cy="411.6" r="0.4" fill="#777" fill-opacity="0.55"/>
<circle cx="273.5" cy="404.9" r="0.4" fill="#777" fill-opacity="0.55"/>
<circle cx="294.1" cy="392.5" r="0.4" fill="#777" fill-opacity="0.55"/>
<circle cx="290.2" cy="386.9" r="0.4" fill="#777" fill-opacity="0.55"/>
<circle cx="292.5" cy="401.6" r="0.4" fill="#777" fill-opacity="0.55"/>
<circle cx="292.1" cy="387.2" r="0.4" fill="#777" fill-opacity="0.55"/>
<circle cx="277.0" cy="387.8" r="0.4" fill="#777" fill-opacity="0.55"/>
<circle cx="272.2" cy="407.2" r="0.4" fill="#777" fill-opacity="0.55"/>
<circle cx="290.5" cy="380.1" r="0.4" fill="#777" fill-opacity="0.55"/>
<circle cx="292.0" cy="395.0" r="0.4" fill="#777" fill-opacity="0.55"/>
<circle cx="288.0" cy="406.9" r="0.4" fill="#777" fill-opacity="0.55"/>
<circle cx="272.9" cy="392.1" r="0.4" fill="#777" fill-opacity="0.55"/>
<circle cx="293.6" cy="391.3" r="0.4" fill="#777" fill-opacity="0.55"/>
<circle cx="278.8" cy="380.4" r="0.4" fill="#777" fill-opacity="0.55"/>
<circle cx="272.5" cy="399.4" r="0.4" fill="#777" fill-opacity="0.55"/>
<circle cx="292.4" cy="402.5" r="0.4" fill="#777" fill-opacity="0.55"/>
<g transform="translate(293.10,358.75) rotate(0)">
<ellipse cx="0" cy="0" rx="8.8" ry="8.5" fill="url(#gG)"/>
<ellipse cx="0" cy="0" rx="8.80" ry="8.50" fill="none" stroke="#8a8a8a" stroke-opacity="0.3" stroke-width="0.5"/>
<ellipse cx="0" cy="0" rx="6.60" ry="6.38" fill="none" stroke="#8a8a8a" stroke-opacity="0.3" stroke-width="0.5"/>
<ellipse cx="0" cy="0" rx="4.40" ry="4.25" fill="none" stroke="#8a8a8a" stroke-opacity="0.3" stroke-width="0.5"/>
<ellipse cx="0" cy="0" rx="2.20" ry="2.12" fill="none" stroke="#8a8a8a" stroke-opacity="0.3" stroke-width="0.5"/>
<ellipse cx="0" cy="0" rx="1.23" ry="1.19" fill="#fff"/>
</g>
<g transform="translate(282.80,396.30) rotate(9)">
<ellipse cx="0" cy="0" rx="10.3" ry="18" fill="url(#gG)"/>
<ellipse cx="0" cy="0" rx="10.30" ry="18.00" fill="none" stroke="#8a8a8a" stroke-opacity="0.3" stroke-width="0.5"/>
<ellipse cx="0" cy="0" rx="7.73" ry="13.50" fill="none" stroke="#8a8a8a" stroke-opacity="0.3" stroke-width="0.5"/>
<ellipse cx="0" cy="0" rx="5.15" ry="9.00" fill="none" stroke="#8a8a8a" stroke-opacity="0.3" stroke-width="0.5"/>
<ellipse cx="0" cy="0" rx="2.58" ry="4.50" fill="none" stroke="#8a8a8a" stroke-opacity="0.3" stroke-width="0.5"/>
<ellipse cx="0" cy="0" rx="1.44" ry="2.52" fill="#fff"/>
</g>
<rect x="264.50" y="346.25" width="72.00" height="72.05" stroke="#333" stroke-width="1.1" fill="none"/>
<rect x="284.70" y="346.25" width="35.30" height="24.95" stroke="#555" stroke-width="1.0" fill="none"/>
<text x="317.00" y="369.30" font-size="9.0" text-anchor="end" font-weight="normal" fill="#111" >23.5</text>
<circle cx="354.6" cy="413.9" r="0.35" fill="#888" fill-opacity="0.55"/>
<circle cx="365.7" cy="389.8" r="0.35" fill="#888" fill-opacity="0.55"/>
<circle cx="351.8" cy="387.8" r="0.35" fill="#888" fill-opacity="0.55"/>
<circle cx="365.5" cy="405.2" r="0.35" fill="#888" fill-opacity="0.55"/>
<circle cx="351.3" cy="380.7" r="0.35" fill="#888" fill-opacity="0.55"/>
<circle cx="362.5" cy="400.7" r="0.35" fill="#888" fill-opacity="0.55"/>
<circle cx="358.8" cy="386.7" r="0.35" fill="#888" fill-opacity="0.55"/>
<circle cx="364.5" cy="378.4" r="0.35" fill="#888" fill-opacity="0.55"/>
<circle cx="356.4" cy="396.0" r="0.35" fill="#888" fill-opacity="0.55"/>
<circle cx="374.2" cy="403.1" r="0.35" fill="#888" fill-opacity="0.55"/>
<circle cx="372.2" cy="396.5" r="0.35" fill="#888" fill-opacity="0.55"/>
<circle cx="354.6" cy="387.6" r="0.35" fill="#888" fill-opacity="0.55"/>
<circle cx="374.2" cy="405.5" r="0.35" fill="#888" fill-opacity="0.55"/>
<circle cx="356.6" cy="378.8" r="0.35" fill="#888" fill-opacity="0.55"/>
<circle cx="361.8" cy="404.3" r="0.35" fill="#888" fill-opacity="0.55"/>
<circle cx="359.6" cy="388.0" r="0.35" fill="#888" fill-opacity="0.55"/>
<circle cx="366.3" cy="414.1" r="0.35" fill="#888" fill-opacity="0.55"/>
<circle cx="354.4" cy="379.3" r="0.35" fill="#888" fill-opacity="0.55"/>
<circle cx="357.4" cy="394.4" r="0.35" fill="#888" fill-opacity="0.55"/>
<circle cx="366.7" cy="385.7" r="0.35" fill="#888" fill-opacity="0.55"/>
<circle cx="369.8" cy="406.8" r="0.35" fill="#888" fill-opacity="0.55"/>
<circle cx="361.9" cy="386.0" r="0.35" fill="#888" fill-opacity="0.55"/>
<circle cx="374.5" cy="390.2" r="0.35" fill="#888" fill-opacity="0.55"/>
<circle cx="370.4" cy="387.0" r="0.35" fill="#888" fill-opacity="0.55"/>
<circle cx="354.3" cy="407.7" r="0.35" fill="#888" fill-opacity="0.55"/>
<circle cx="356.3" cy="415.1" r="0.35" fill="#888" fill-opacity="0.55"/>
<circle cx="361.7" cy="385.3" r="0.35" fill="#888" fill-opacity="0.55"/>
<circle cx="354.3" cy="394.3" r="0.35" fill="#888" fill-opacity="0.55"/>
<circle cx="366.3" cy="415.0" r="0.35" fill="#888" fill-opacity="0.55"/>
<circle cx="352.3" cy="393.3" r="0.35" fill="#888" fill-opacity="0.55"/>
<circle cx="354.0" cy="416.0" r="0.35" fill="#888" fill-opacity="0.55"/>
<circle cx="352.1" cy="380.0" r="0.35" fill="#888" fill-opacity="0.55"/>
<circle cx="349.9" cy="393.3" r="0.35" fill="#888" fill-opacity="0.55"/>
<circle cx="372.6" cy="412.5" r="0.35" fill="#888" fill-opacity="0.55"/>
<circle cx="368.1" cy="416.9" r="0.35" fill="#888" fill-opacity="0.55"/>
<circle cx="373.5" cy="390.8" r="0.35" fill="#888" fill-opacity="0.55"/>
<circle cx="353.3" cy="414.5" r="0.35" fill="#888" fill-opacity="0.55"/>
<circle cx="368.5" cy="379.2" r="0.35" fill="#888" fill-opacity="0.55"/>
<circle cx="366.2" cy="392.8" r="0.35" fill="#888" fill-opacity="0.55"/>
<circle cx="358.4" cy="390.9" r="0.35" fill="#888" fill-opacity="0.55"/>
<circle cx="352.9" cy="378.1" r="0.35" fill="#888" fill-opacity="0.55"/>
<circle cx="355.9" cy="391.7" r="0.35" fill="#888" fill-opacity="0.55"/>
<circle cx="374.1" cy="382.8" r="0.35" fill="#888" fill-opacity="0.55"/>
<circle cx="374.3" cy="386.1" r="0.35" fill="#888" fill-opacity="0.55"/>
<circle cx="357.9" cy="410.0" r="0.35" fill="#888" fill-opacity="0.55"/>
<circle cx="370.5" cy="394.9" r="0.35" fill="#888" fill-opacity="0.55"/>
<circle cx="349.6" cy="396.5" r="0.35" fill="#888" fill-opacity="0.55"/>
<circle cx="358.4" cy="413.9" r="0.35" fill="#888" fill-opacity="0.55"/>
<circle cx="353.5" cy="392.2" r="0.35" fill="#888" fill-opacity="0.55"/>
<circle cx="372.5" cy="379.2" r="0.35" fill="#888" fill-opacity="0.55"/>
<circle cx="359.4" cy="409.7" r="0.35" fill="#888" fill-opacity="0.55"/>
<circle cx="369.0" cy="379.6" r="0.35" fill="#888" fill-opacity="0.55"/>
<circle cx="349.2" cy="380.4" r="0.35" fill="#888" fill-opacity="0.55"/>
<circle cx="373.1" cy="388.0" r="0.35" fill="#888" fill-opacity="0.55"/>
<circle cx="368.5" cy="413.0" r="0.35" fill="#888" fill-opacity="0.55"/>
<circle cx="357.5" cy="388.6" r="0.35" fill="#888" fill-opacity="0.55"/>
<circle cx="374.2" cy="402.1" r="0.35" fill="#888" fill-opacity="0.55"/>
<circle cx="355.4" cy="405.9" r="0.35" fill="#888" fill-opacity="0.55"/>
<circle cx="356.8" cy="388.7" r="0.35" fill="#888" fill-opacity="0.55"/>
<circle cx="348.4" cy="407.5" r="0.35" fill="#888" fill-opacity="0.55"/>
<circle cx="400.0" cy="391.2" r="0.35" fill="#999" fill-opacity="0.5"/>
<circle cx="401.0" cy="351.6" r="0.35" fill="#999" fill-opacity="0.5"/>
<circle cx="372.7" cy="380.9" r="0.35" fill="#999" fill-opacity="0.5"/>
<circle cx="401.6" cy="412.0" r="0.35" fill="#999" fill-opacity="0.5"/>
<circle cx="378.8" cy="366.3" r="0.35" fill="#999" fill-opacity="0.5"/>
<circle cx="380.5" cy="382.1" r="0.35" fill="#999" fill-opacity="0.5"/>
<circle cx="400.4" cy="361.9" r="0.35" fill="#999" fill-opacity="0.5"/>
<circle cx="395.4" cy="398.0" r="0.35" fill="#999" fill-opacity="0.5"/>
<circle cx="396.2" cy="400.2" r="0.35" fill="#999" fill-opacity="0.5"/>
<circle cx="387.6" cy="371.3" r="0.35" fill="#999" fill-opacity="0.5"/>
<circle cx="376.1" cy="373.5" r="0.35" fill="#999" fill-opacity="0.5"/>
<circle cx="394.6" cy="355.1" r="0.35" fill="#999" fill-opacity="0.5"/>
<circle cx="371.2" cy="398.9" r="0.35" fill="#999" fill-opacity="0.5"/>
<circle cx="373.2" cy="354.2" r="0.35" fill="#999" fill-opacity="0.5"/>
<circle cx="364.7" cy="385.9" r="0.35" fill="#999" fill-opacity="0.5"/>
<circle cx="376.3" cy="413.7" r="0.35" fill="#999" fill-opacity="0.5"/>
<circle cx="398.6" cy="414.2" r="0.35" fill="#999" fill-opacity="0.5"/>
<circle cx="373.9" cy="355.5" r="0.35" fill="#999" fill-opacity="0.5"/>
<circle cx="367.2" cy="382.4" r="0.35" fill="#999" fill-opacity="0.5"/>
<circle cx="391.7" cy="379.1" r="0.35" fill="#999" fill-opacity="0.5"/>
<circle cx="358.6" cy="412.4" r="0.4" fill="#777" fill-opacity="0.6"/>
<circle cx="357.2" cy="383.9" r="0.4" fill="#777" fill-opacity="0.6"/>
<circle cx="366.3" cy="379.6" r="0.4" fill="#777" fill-opacity="0.6"/>
<circle cx="360.5" cy="384.9" r="0.4" fill="#777" fill-opacity="0.6"/>
<circle cx="369.7" cy="386.6" r="0.4" fill="#777" fill-opacity="0.6"/>
<circle cx="354.9" cy="389.0" r="0.4" fill="#777" fill-opacity="0.6"/>
<circle cx="364.7" cy="383.5" r="0.4" fill="#777" fill-opacity="0.6"/>
<circle cx="358.1" cy="411.2" r="0.4" fill="#777" fill-opacity="0.6"/>
<circle cx="364.1" cy="413.6" r="0.4" fill="#777" fill-opacity="0.6"/>
<circle cx="355.6" cy="388.3" r="0.4" fill="#777" fill-opacity="0.6"/>
<circle cx="349.5" cy="406.0" r="0.4" fill="#777" fill-opacity="0.6"/>
<circle cx="353.3" cy="394.3" r="0.4" fill="#777" fill-opacity="0.6"/>
<circle cx="369.5" cy="382.9" r="0.4" fill="#777" fill-opacity="0.6"/>
<circle cx="370.0" cy="398.7" r="0.4" fill="#777" fill-opacity="0.6"/>
<circle cx="350.2" cy="397.1" r="0.4" fill="#777" fill-opacity="0.6"/>
<circle cx="371.8" cy="383.7" r="0.4" fill="#777" fill-opacity="0.6"/>
<circle cx="369.3" cy="403.1" r="0.4" fill="#777" fill-opacity="0.6"/>
<circle cx="365.4" cy="408.1" r="0.4" fill="#777" fill-opacity="0.6"/>
<circle cx="372.3" cy="397.2" r="0.4" fill="#777" fill-opacity="0.6"/>
<circle cx="371.7" cy="393.2" r="0.4" fill="#777" fill-opacity="0.6"/>
<circle cx="371.0" cy="387.7" r="0.4" fill="#777" fill-opacity="0.6"/>
<circle cx="356.4" cy="414.2" r="0.4" fill="#777" fill-opacity="0.6"/>
<circle cx="370.5" cy="394.9" r="0.4" fill="#777" fill-opacity="0.6"/>
<circle cx="355.8" cy="385.8" r="0.4" fill="#777" fill-opacity="0.6"/>
<circle cx="359.7" cy="412.1" r="0.4" fill="#777" fill-opacity="0.6"/>
<circle cx="364.2" cy="409.3" r="0.4" fill="#777" fill-opacity="0.6"/>
<circle cx="357.1" cy="413.2" r="0.4" fill="#777" fill-opacity="0.6"/>
<circle cx="359.7" cy="384.8" r="0.4" fill="#777" fill-opacity="0.6"/>
<circle cx="370.4" cy="400.7" r="0.4" fill="#777" fill-opacity="0.6"/>
<circle cx="361.3" cy="384.1" r="0.4" fill="#777" fill-opacity="0.6"/>
<circle cx="355.1" cy="409.0" r="0.4" fill="#777" fill-opacity="0.6"/>
<circle cx="368.5" cy="382.9" r="0.4" fill="#777" fill-opacity="0.6"/>
<circle cx="367.8" cy="404.3" r="0.4" fill="#777" fill-opacity="0.6"/>
<circle cx="351.3" cy="404.8" r="0.4" fill="#777" fill-opacity="0.6"/>
<circle cx="359.2" cy="385.9" r="0.4" fill="#777" fill-opacity="0.6"/>
<circle cx="363.3" cy="413.0" r="0.4" fill="#777" fill-opacity="0.6"/>
<circle cx="352.2" cy="402.8" r="0.4" fill="#777" fill-opacity="0.6"/>
<circle cx="353.1" cy="413.2" r="0.4" fill="#777" fill-opacity="0.6"/>
<circle cx="354.0" cy="410.9" r="0.4" fill="#777" fill-opacity="0.6"/>
<circle cx="352.7" cy="407.4" r="0.4" fill="#777" fill-opacity="0.6"/>
<circle cx="373.1" cy="385.3" r="0.4" fill="#777" fill-opacity="0.6"/>
<circle cx="353.4" cy="406.0" r="0.4" fill="#777" fill-opacity="0.6"/>
<circle cx="364.1" cy="383.4" r="0.4" fill="#777" fill-opacity="0.6"/>
<circle cx="372.7" cy="400.9" r="0.4" fill="#777" fill-opacity="0.6"/>
<circle cx="349.9" cy="402.7" r="0.4" fill="#777" fill-opacity="0.6"/>
<circle cx="349.8" cy="404.7" r="0.4" fill="#777" fill-opacity="0.6"/>
<circle cx="352.7" cy="398.3" r="0.4" fill="#777" fill-opacity="0.6"/>
<circle cx="371.1" cy="401.3" r="0.4" fill="#777" fill-opacity="0.6"/>
<circle cx="358.3" cy="381.4" r="0.4" fill="#777" fill-opacity="0.6"/>
<circle cx="368.0" cy="408.2" r="0.4" fill="#777" fill-opacity="0.6"/>
<circle cx="352.0" cy="406.7" r="0.4" fill="#777" fill-opacity="0.6"/>
<circle cx="364.1" cy="409.9" r="0.4" fill="#777" fill-opacity="0.6"/>
<circle cx="351.1" cy="391.9" r="0.4" fill="#777" fill-opacity="0.6"/>
<circle cx="366.6" cy="409.0" r="0.4" fill="#777" fill-opacity="0.6"/>
<circle cx="370.2" cy="381.0" r="0.4" fill="#777" fill-opacity="0.6"/>
<circle cx="361.0" cy="410.4" r="0.4" fill="#777" fill-opacity="0.6"/>
<circle cx="374.2" cy="393.7" r="0.4" fill="#777" fill-opacity="0.6"/>
<circle cx="353.4" cy="396.5" r="0.4" fill="#777" fill-opacity="0.6"/>
<circle cx="371.7" cy="392.9" r="0.4" fill="#777" fill-opacity="0.6"/>
<circle cx="372.5" cy="390.3" r="0.4" fill="#777" fill-opacity="0.6"/>
<circle cx="368.7" cy="386.3" r="0.4" fill="#777" fill-opacity="0.6"/>
<circle cx="367.2" cy="384.4" r="0.4" fill="#777" fill-opacity="0.6"/>
<circle cx="350.0" cy="404.8" r="0.4" fill="#777" fill-opacity="0.6"/>
<circle cx="368.9" cy="386.5" r="0.4" fill="#777" fill-opacity="0.6"/>
<circle cx="359.6" cy="412.3" r="0.4" fill="#777" fill-opacity="0.6"/>
<circle cx="353.0" cy="393.1" r="0.4" fill="#777" fill-opacity="0.6"/>
<circle cx="365.3" cy="408.6" r="0.4" fill="#777" fill-opacity="0.6"/>
<circle cx="364.7" cy="379.1" r="0.4" fill="#777" fill-opacity="0.6"/>
<circle cx="370.2" cy="403.9" r="0.4" fill="#777" fill-opacity="0.6"/>
<circle cx="365.4" cy="384.8" r="0.4" fill="#777" fill-opacity="0.6"/>
<circle cx="369.0" cy="387.3" r="0.4" fill="#777" fill-opacity="0.6"/>
<circle cx="356.2" cy="385.9" r="0.4" fill="#777" fill-opacity="0.6"/>
<circle cx="358.2" cy="385.4" r="0.4" fill="#777" fill-opacity="0.6"/>
<circle cx="350.9" cy="402.6" r="0.4" fill="#777" fill-opacity="0.6"/>
<circle cx="350.5" cy="402.2" r="0.4" fill="#777" fill-opacity="0.6"/>
<circle cx="351.5" cy="399.8" r="0.4" fill="#777" fill-opacity="0.6"/>
<circle cx="371.1" cy="402.3" r="0.4" fill="#777" fill-opacity="0.6"/>
<circle cx="352.8" cy="395.9" r="0.4" fill="#777" fill-opacity="0.6"/>
<circle cx="367.2" cy="380.4" r="0.4" fill="#777" fill-opacity="0.6"/>
<circle cx="352.6" cy="398.6" r="0.4" fill="#777" fill-opacity="0.6"/>
<circle cx="353.1" cy="397.3" r="0.4" fill="#777" fill-opacity="0.6"/>
<circle cx="365.3" cy="409.8" r="0.4" fill="#777" fill-opacity="0.6"/>
<circle cx="367.4" cy="407.6" r="0.4" fill="#777" fill-opacity="0.6"/>
<circle cx="354.0" cy="394.3" r="0.4" fill="#777" fill-opacity="0.6"/>
<circle cx="359.0" cy="386.1" r="0.4" fill="#777" fill-opacity="0.6"/>
<circle cx="365.2" cy="379.9" r="0.4" fill="#777" fill-opacity="0.6"/>
<circle cx="354.0" cy="394.2" r="0.4" fill="#777" fill-opacity="0.6"/>
<circle cx="352.6" cy="394.4" r="0.4" fill="#777" fill-opacity="0.6"/>
<circle cx="370.6" cy="395.3" r="0.4" fill="#777" fill-opacity="0.6"/>
<circle cx="372.8" cy="384.7" r="0.4" fill="#777" fill-opacity="0.6"/>
<circle cx="365.1" cy="379.6" r="0.4" fill="#777" fill-opacity="0.6"/>
<circle cx="361.1" cy="415.6" r="0.4" fill="#777" fill-opacity="0.6"/>
<circle cx="350.0" cy="395.1" r="0.4" fill="#777" fill-opacity="0.6"/>
<circle cx="370.7" cy="392.4" r="0.4" fill="#777" fill-opacity="0.6"/>
<circle cx="369.1" cy="380.4" r="0.4" fill="#777" fill-opacity="0.6"/>
<circle cx="368.5" cy="405.3" r="0.4" fill="#777" fill-opacity="0.6"/>
<circle cx="365.6" cy="384.0" r="0.4" fill="#777" fill-opacity="0.6"/>
<circle cx="371.0" cy="390.6" r="0.4" fill="#777" fill-opacity="0.6"/>
<circle cx="368.3" cy="386.0" r="0.4" fill="#777" fill-opacity="0.6"/>
<circle cx="350.5" cy="394.0" r="0.4" fill="#777" fill-opacity="0.6"/>
<circle cx="360.3" cy="411.4" r="0.4" fill="#777" fill-opacity="0.6"/>
<circle cx="352.9" cy="394.3" r="0.4" fill="#777" fill-opacity="0.6"/>
<circle cx="369.1" cy="402.5" r="0.4" fill="#777" fill-opacity="0.6"/>
<circle cx="363.6" cy="414.3" r="0.4" fill="#777" fill-opacity="0.6"/>
<circle cx="361.3" cy="379.8" r="0.4" fill="#777" fill-opacity="0.6"/>
<circle cx="362.9" cy="413.7" r="0.4" fill="#777" fill-opacity="0.6"/>
<circle cx="366.3" cy="409.6" r="0.4" fill="#777" fill-opacity="0.6"/>
<circle cx="358.7" cy="384.6" r="0.4" fill="#777" fill-opacity="0.6"/>
<circle cx="371.6" cy="387.8" r="0.4" fill="#777" fill-opacity="0.6"/>
<circle cx="354.2" cy="386.0" r="0.4" fill="#777" fill-opacity="0.6"/>
<circle cx="367.8" cy="411.0" r="0.4" fill="#777" fill-opacity="0.6"/>
<circle cx="358.2" cy="384.8" r="0.4" fill="#777" fill-opacity="0.6"/>
<circle cx="367.9" cy="384.6" r="0.4" fill="#777" fill-opacity="0.6"/>
<circle cx="371.9" cy="399.0" r="0.4" fill="#777" fill-opacity="0.6"/>
<circle cx="351.4" cy="408.6" r="0.4" fill="#777" fill-opacity="0.6"/>
<circle cx="352.6" cy="399.9" r="0.4" fill="#777" fill-opacity="0.6"/>
<circle cx="364.8" cy="384.5" r="0.4" fill="#777" fill-opacity="0.6"/>
<circle cx="368.8" cy="385.6" r="0.4" fill="#777" fill-opacity="0.6"/>
<circle cx="358.1" cy="381.1" r="0.4" fill="#777" fill-opacity="0.6"/>
<circle cx="355.1" cy="386.4" r="0.4" fill="#777" fill-opacity="0.6"/>
<circle cx="355.7" cy="407.9" r="0.4" fill="#777" fill-opacity="0.6"/>
<circle cx="369.1" cy="402.2" r="0.4" fill="#777" fill-opacity="0.6"/>
<circle cx="357.4" cy="385.4" r="0.4" fill="#777" fill-opacity="0.6"/>
<circle cx="350.9" cy="392.8" r="0.4" fill="#777" fill-opacity="0.6"/>
<circle cx="364.8" cy="409.0" r="0.4" fill="#777" fill-opacity="0.6"/>
<circle cx="360.0" cy="385.8" r="0.4" fill="#777" fill-opacity="0.6"/>
<circle cx="370.7" cy="399.9" r="0.4" fill="#777" fill-opacity="0.6"/>
<circle cx="366.4" cy="408.2" r="0.4" fill="#777" fill-opacity="0.6"/>
<circle cx="359.1" cy="413.4" r="0.4" fill="#777" fill-opacity="0.6"/>
<circle cx="356.4" cy="388.1" r="0.4" fill="#777" fill-opacity="0.6"/>
<circle cx="357.8" cy="384.7" r="0.4" fill="#777" fill-opacity="0.6"/>
<circle cx="365.6" cy="412.9" r="0.4" fill="#777" fill-opacity="0.6"/>
<circle cx="358.5" cy="410.6" r="0.4" fill="#777" fill-opacity="0.6"/>
<circle cx="367.6" cy="408.7" r="0.4" fill="#777" fill-opacity="0.6"/>
<circle cx="372.5" cy="386.8" r="0.4" fill="#777" fill-opacity="0.6"/>
<circle cx="352.4" cy="403.4" r="0.4" fill="#777" fill-opacity="0.6"/>
<circle cx="371.6" cy="401.2" r="0.4" fill="#777" fill-opacity="0.6"/>
<circle cx="354.8" cy="389.5" r="0.4" fill="#777" fill-opacity="0.6"/>
<circle cx="359.1" cy="383.7" r="0.4" fill="#777" fill-opacity="0.6"/>
<circle cx="373.2" cy="393.4" r="0.4" fill="#777" fill-opacity="0.6"/>
<g transform="translate(361.70,397.25) rotate(15)">
<ellipse cx="0" cy="0" rx="10" ry="16" fill="url(#gG)"/>
<ellipse cx="0" cy="0" rx="10.00" ry="16.00" fill="none" stroke="#8a8a8a" stroke-opacity="0.3" stroke-width="0.5"/>
<ellipse cx="0" cy="0" rx="7.50" ry="12.00" fill="none" stroke="#8a8a8a" stroke-opacity="0.3" stroke-width="0.5"/>
<ellipse cx="0" cy="0" rx="5.00" ry="8.00" fill="none" stroke="#8a8a8a" stroke-opacity="0.3" stroke-width="0.5"/>
<ellipse cx="0" cy="0" rx="2.50" ry="4.00" fill="none" stroke="#8a8a8a" stroke-opacity="0.3" stroke-width="0.5"/>
<ellipse cx="0" cy="0" rx="1.40" ry="2.24" fill="#fff"/>
</g>
<rect x="343.30" y="346.25" width="72.00" height="72.05" stroke="#333" stroke-width="1.1" fill="none"/>
<rect x="363.50" y="346.25" width="35.30" height="24.95" stroke="#555" stroke-width="1.0" fill="none"/>
<text x="395.80" y="369.30" font-size="9.0" text-anchor="end" font-weight="normal" fill="#111" >0.4</text>
<circle cx="435.0" cy="413.9" r="0.35" fill="#888" fill-opacity="0.55"/>
<circle cx="428.8" cy="402.0" r="0.35" fill="#888" fill-opacity="0.55"/>
<circle cx="439.7" cy="392.6" r="0.35" fill="#888" fill-opacity="0.55"/>
<circle cx="429.3" cy="409.9" r="0.35" fill="#888" fill-opacity="0.55"/>
<circle cx="427.9" cy="402.6" r="0.35" fill="#888" fill-opacity="0.55"/>
<circle cx="455.7" cy="389.6" r="0.35" fill="#888" fill-opacity="0.55"/>
<circle cx="433.5" cy="404.5" r="0.35" fill="#888" fill-opacity="0.55"/>
<circle cx="442.7" cy="405.5" r="0.35" fill="#888" fill-opacity="0.55"/>
<circle cx="451.9" cy="390.6" r="0.35" fill="#888" fill-opacity="0.55"/>
<circle cx="436.8" cy="394.6" r="0.35" fill="#888" fill-opacity="0.55"/>
<circle cx="429.0" cy="413.5" r="0.35" fill="#888" fill-opacity="0.55"/>
<circle cx="451.0" cy="407.9" r="0.35" fill="#888" fill-opacity="0.55"/>
<circle cx="427.7" cy="412.0" r="0.35" fill="#888" fill-opacity="0.55"/>
<circle cx="449.9" cy="399.9" r="0.35" fill="#888" fill-opacity="0.55"/>
<circle cx="449.8" cy="399.5" r="0.35" fill="#888" fill-opacity="0.55"/>
<circle cx="434.3" cy="388.4" r="0.35" fill="#888" fill-opacity="0.55"/>
<circle cx="434.5" cy="386.2" r="0.35" fill="#888" fill-opacity="0.55"/>
<circle cx="437.6" cy="409.0" r="0.35" fill="#888" fill-opacity="0.55"/>
<circle cx="448.4" cy="412.1" r="0.35" fill="#888" fill-opacity="0.55"/>
<circle cx="448.9" cy="393.5" r="0.35" fill="#888" fill-opacity="0.55"/>
<circle cx="444.1" cy="399.0" r="0.35" fill="#888" fill-opacity="0.55"/>
<circle cx="451.2" cy="401.7" r="0.35" fill="#888" fill-opacity="0.55"/>
<circle cx="435.5" cy="405.5" r="0.35" fill="#888" fill-opacity="0.55"/>
<circle cx="456.5" cy="391.9" r="0.35" fill="#888" fill-opacity="0.55"/>
<circle cx="453.9" cy="385.5" r="0.35" fill="#888" fill-opacity="0.55"/>
<circle cx="435.3" cy="392.6" r="0.35" fill="#888" fill-opacity="0.55"/>
<circle cx="449.8" cy="415.2" r="0.35" fill="#888" fill-opacity="0.55"/>
<circle cx="449.9" cy="395.5" r="0.35" fill="#888" fill-opacity="0.55"/>
<circle cx="453.9" cy="395.5" r="0.35" fill="#888" fill-opacity="0.55"/>
<circle cx="434.7" cy="414.0" r="0.35" fill="#888" fill-opacity="0.55"/>
<circle cx="446.4" cy="407.2" r="0.35" fill="#888" fill-opacity="0.55"/>
<circle cx="447.5" cy="416.3" r="0.35" fill="#888" fill-opacity="0.55"/>
<circle cx="441.6" cy="411.9" r="0.35" fill="#888" fill-opacity="0.55"/>
<circle cx="448.4" cy="412.4" r="0.35" fill="#888" fill-opacity="0.55"/>
<circle cx="440.6" cy="408.2" r="0.35" fill="#888" fill-opacity="0.55"/>
<circle cx="444.6" cy="394.8" r="0.35" fill="#888" fill-opacity="0.55"/>
<circle cx="433.9" cy="404.9" r="0.35" fill="#888" fill-opacity="0.55"/>
<circle cx="429.8" cy="414.1" r="0.35" fill="#888" fill-opacity="0.55"/>
<circle cx="431.8" cy="385.9" r="0.35" fill="#888" fill-opacity="0.55"/>
<circle cx="430.7" cy="414.7" r="0.35" fill="#888" fill-opacity="0.55"/>
<circle cx="437.8" cy="389.5" r="0.35" fill="#888" fill-opacity="0.55"/>
<circle cx="428.4" cy="386.3" r="0.35" fill="#888" fill-opacity="0.55"/>
<circle cx="448.3" cy="405.3" r="0.35" fill="#888" fill-opacity="0.55"/>
<circle cx="448.4" cy="408.6" r="0.35" fill="#888" fill-opacity="0.55"/>
<circle cx="429.5" cy="403.9" r="0.35" fill="#888" fill-opacity="0.55"/>
<circle cx="438.4" cy="411.2" r="0.35" fill="#888" fill-opacity="0.55"/>
<circle cx="452.1" cy="413.5" r="0.35" fill="#888" fill-opacity="0.55"/>
<circle cx="429.5" cy="412.8" r="0.35" fill="#888" fill-opacity="0.55"/>
<circle cx="454.9" cy="415.2" r="0.35" fill="#888" fill-opacity="0.55"/>
<circle cx="430.7" cy="391.6" r="0.35" fill="#888" fill-opacity="0.55"/>
<circle cx="437.6" cy="372.8" r="0.38" fill="#777" fill-opacity="0.6"/>
<circle cx="458.2" cy="390.7" r="0.38" fill="#777" fill-opacity="0.6"/>
<circle cx="452.3" cy="391.0" r="0.38" fill="#777" fill-opacity="0.6"/>
<circle cx="452.2" cy="378.6" r="0.38" fill="#777" fill-opacity="0.6"/>
<circle cx="437.3" cy="374.3" r="0.38" fill="#777" fill-opacity="0.6"/>
<circle cx="455.7" cy="376.7" r="0.38" fill="#777" fill-opacity="0.6"/>
<circle cx="443.4" cy="381.7" r="0.38" fill="#777" fill-opacity="0.6"/>
<circle cx="435.1" cy="377.9" r="0.38" fill="#777" fill-opacity="0.6"/>
<circle cx="442.4" cy="388.5" r="0.38" fill="#777" fill-opacity="0.6"/>
<circle cx="444.8" cy="379.4" r="0.38" fill="#777" fill-opacity="0.6"/>
<circle cx="461.5" cy="383.6" r="0.38" fill="#777" fill-opacity="0.6"/>
<circle cx="458.3" cy="386.2" r="0.38" fill="#777" fill-opacity="0.6"/>
<circle cx="435.4" cy="381.5" r="0.38" fill="#777" fill-opacity="0.6"/>
<circle cx="446.7" cy="389.8" r="0.38" fill="#777" fill-opacity="0.6"/>
<circle cx="444.2" cy="388.2" r="0.38" fill="#777" fill-opacity="0.6"/>
<circle cx="449.6" cy="377.0" r="0.38" fill="#777" fill-opacity="0.6"/>
<circle cx="458.6" cy="374.1" r="0.38" fill="#777" fill-opacity="0.6"/>
<circle cx="457.5" cy="375.9" r="0.38" fill="#777" fill-opacity="0.6"/>
<circle cx="434.5" cy="376.6" r="0.38" fill="#777" fill-opacity="0.6"/>
<circle cx="455.8" cy="394.5" r="0.38" fill="#777" fill-opacity="0.6"/>
<circle cx="434.6" cy="383.3" r="0.38" fill="#777" fill-opacity="0.6"/>
<circle cx="448.3" cy="390.3" r="0.38" fill="#777" fill-opacity="0.6"/>
<circle cx="439.7" cy="383.4" r="0.38" fill="#777" fill-opacity="0.6"/>
<circle cx="444.2" cy="391.1" r="0.38" fill="#777" fill-opacity="0.6"/>
<circle cx="441.8" cy="393.7" r="0.38" fill="#777" fill-opacity="0.6"/>
<circle cx="442.4" cy="376.9" r="0.38" fill="#777" fill-opacity="0.6"/>
<circle cx="454.1" cy="383.5" r="0.38" fill="#777" fill-opacity="0.6"/>
<circle cx="437.6" cy="386.6" r="0.38" fill="#777" fill-opacity="0.6"/>
<circle cx="436.8" cy="390.1" r="0.38" fill="#777" fill-opacity="0.6"/>
<circle cx="454.0" cy="390.1" r="0.38" fill="#777" fill-opacity="0.6"/>
<circle cx="452.1" cy="380.2" r="0.38" fill="#777" fill-opacity="0.6"/>
<circle cx="445.7" cy="381.1" r="0.38" fill="#777" fill-opacity="0.6"/>
<circle cx="459.4" cy="374.0" r="0.38" fill="#777" fill-opacity="0.6"/>
<circle cx="459.4" cy="372.6" r="0.38" fill="#777" fill-opacity="0.6"/>
<circle cx="440.3" cy="378.1" r="0.38" fill="#777" fill-opacity="0.6"/>
<circle cx="459.7" cy="383.5" r="0.38" fill="#777" fill-opacity="0.6"/>
<circle cx="445.1" cy="392.3" r="0.38" fill="#777" fill-opacity="0.6"/>
<circle cx="441.0" cy="382.6" r="0.38" fill="#777" fill-opacity="0.6"/>
<circle cx="449.4" cy="389.4" r="0.38" fill="#777" fill-opacity="0.6"/>
<circle cx="455.6" cy="386.9" r="0.38" fill="#777" fill-opacity="0.6"/>
<circle cx="444.3" cy="379.5" r="0.38" fill="#777" fill-opacity="0.6"/>
<circle cx="438.8" cy="391.4" r="0.38" fill="#777" fill-opacity="0.6"/>
<circle cx="453.0" cy="389.1" r="0.38" fill="#777" fill-opacity="0.6"/>
<circle cx="439.2" cy="382.1" r="0.38" fill="#777" fill-opacity="0.6"/>
<circle cx="456.2" cy="385.3" r="0.38" fill="#777" fill-opacity="0.6"/>
<circle cx="438.0" cy="382.6" r="0.38" fill="#777" fill-opacity="0.6"/>
<circle cx="459.3" cy="377.5" r="0.38" fill="#777" fill-opacity="0.6"/>
<circle cx="439.9" cy="378.9" r="0.38" fill="#777" fill-opacity="0.6"/>
<circle cx="454.2" cy="391.4" r="0.38" fill="#777" fill-opacity="0.6"/>
<circle cx="438.8" cy="375.6" r="0.38" fill="#777" fill-opacity="0.6"/>
<circle cx="441.4" cy="379.5" r="0.38" fill="#777" fill-opacity="0.6"/>
<circle cx="449.1" cy="375.7" r="0.38" fill="#777" fill-opacity="0.6"/>
<circle cx="443.7" cy="376.4" r="0.38" fill="#777" fill-opacity="0.6"/>
<circle cx="461.8" cy="388.8" r="0.38" fill="#777" fill-opacity="0.6"/>
<circle cx="437.4" cy="394.1" r="0.38" fill="#777" fill-opacity="0.6"/>
<circle cx="437.3" cy="380.8" r="0.38" fill="#777" fill-opacity="0.6"/>
<circle cx="462.0" cy="390.3" r="0.38" fill="#777" fill-opacity="0.6"/>
<circle cx="455.0" cy="382.0" r="0.38" fill="#777" fill-opacity="0.6"/>
<circle cx="440.0" cy="386.7" r="0.38" fill="#777" fill-opacity="0.6"/>
<circle cx="437.5" cy="376.7" r="0.38" fill="#777" fill-opacity="0.6"/>
<circle cx="445.4" cy="372.8" r="0.38" fill="#777" fill-opacity="0.6"/>
<circle cx="445.7" cy="390.2" r="0.38" fill="#777" fill-opacity="0.6"/>
<circle cx="453.9" cy="383.5" r="0.38" fill="#777" fill-opacity="0.6"/>
<circle cx="452.2" cy="382.7" r="0.38" fill="#777" fill-opacity="0.6"/>
<circle cx="438.5" cy="385.9" r="0.38" fill="#777" fill-opacity="0.6"/>
<circle cx="445.8" cy="389.0" r="0.38" fill="#777" fill-opacity="0.6"/>
<circle cx="459.9" cy="381.9" r="0.38" fill="#777" fill-opacity="0.6"/>
<circle cx="450.6" cy="389.2" r="0.38" fill="#777" fill-opacity="0.6"/>
<circle cx="446.3" cy="377.3" r="0.38" fill="#777" fill-opacity="0.6"/>
<circle cx="454.7" cy="392.2" r="0.38" fill="#777" fill-opacity="0.6"/>
<circle cx="444.3" cy="392.1" r="0.4" fill="#777" fill-opacity="0.6"/>
<circle cx="448.0" cy="395.6" r="0.4" fill="#777" fill-opacity="0.6"/>
<circle cx="436.4" cy="394.2" r="0.4" fill="#777" fill-opacity="0.6"/>
<circle cx="433.8" cy="416.3" r="0.4" fill="#777" fill-opacity="0.6"/>
<circle cx="445.7" cy="413.6" r="0.4" fill="#777" fill-opacity="0.6"/>
<circle cx="444.8" cy="392.2" r="0.4" fill="#777" fill-opacity="0.6"/>
<circle cx="436.1" cy="395.5" r="0.4" fill="#777" fill-opacity="0.6"/>
<circle cx="430.9" cy="409.0" r="0.4" fill="#777" fill-opacity="0.6"/>
<circle cx="435.5" cy="395.3" r="0.4" fill="#777" fill-opacity="0.6"/>
<circle cx="438.0" cy="391.2" r="0.4" fill="#777" fill-opacity="0.6"/>
<circle cx="441.3" cy="417.9" r="0.4" fill="#777" fill-opacity="0.6"/>
<circle cx="444.1" cy="393.5" r="0.4" fill="#777" fill-opacity="0.6"/>
<circle cx="429.3" cy="403.7" r="0.4" fill="#777" fill-opacity="0.6"/>
<circle cx="448.3" cy="409.9" r="0.4" fill="#777" fill-opacity="0.6"/>
<circle cx="442.8" cy="417.8" r="0.4" fill="#777" fill-opacity="0.6"/>
<circle cx="449.4" cy="402.2" r="0.4" fill="#777" fill-opacity="0.6"/>
<circle cx="445.8" cy="414.2" r="0.4" fill="#777" fill-opacity="0.6"/>
<circle cx="431.4" cy="399.6" r="0.4" fill="#777" fill-opacity="0.6"/>
<circle cx="430.8" cy="402.0" r="0.4" fill="#777" fill-opacity="0.6"/>
<circle cx="446.7" cy="394.8" r="0.4" fill="#777" fill-opacity="0.6"/>
<circle cx="429.6" cy="410.8" r="0.4" fill="#777" fill-opacity="0.6"/>
<circle cx="439.6" cy="418.4" r="0.4" fill="#777" fill-opacity="0.6"/>
<circle cx="430.5" cy="411.9" r="0.4" fill="#777" fill-opacity="0.6"/>
<circle cx="445.4" cy="416.8" r="0.4" fill="#777" fill-opacity="0.6"/>
<circle cx="433.5" cy="412.4" r="0.4" fill="#777" fill-opacity="0.6"/>
<circle cx="436.1" cy="416.7" r="0.4" fill="#777" fill-opacity="0.6"/>
<circle cx="448.5" cy="407.9" r="0.4" fill="#777" fill-opacity="0.6"/>
<circle cx="430.2" cy="409.6" r="0.4" fill="#777" fill-opacity="0.6"/>
<circle cx="433.1" cy="413.2" r="0.4" fill="#777" fill-opacity="0.6"/>
<circle cx="438.7" cy="418.7" r="0.4" fill="#777" fill-opacity="0.6"/>
<circle cx="449.5" cy="402.1" r="0.4" fill="#777" fill-opacity="0.6"/>
<circle cx="439.0" cy="419.0" r="0.4" fill="#777" fill-opacity="0.6"/>
<circle cx="432.2" cy="410.7" r="0.4" fill="#777" fill-opacity="0.6"/>
<circle cx="444.7" cy="416.4" r="0.4" fill="#777" fill-opacity="0.6"/>
<circle cx="446.0" cy="393.5" r="0.4" fill="#777" fill-opacity="0.6"/>
<circle cx="430.4" cy="405.5" r="0.4" fill="#777" fill-opacity="0.6"/>
<circle cx="438.5" cy="419.7" r="0.4" fill="#777" fill-opacity="0.6"/>
<circle cx="432.1" cy="414.3" r="0.4" fill="#777" fill-opacity="0.6"/>
<circle cx="446.9" cy="393.3" r="0.4" fill="#777" fill-opacity="0.6"/>
<circle cx="431.3" cy="405.6" r="0.4" fill="#777" fill-opacity="0.6"/>
<circle cx="433.2" cy="400.1" r="0.4" fill="#777" fill-opacity="0.6"/>
<circle cx="446.5" cy="395.6" r="0.4" fill="#777" fill-opacity="0.6"/>
<circle cx="446.9" cy="396.7" r="0.4" fill="#777" fill-opacity="0.6"/>
<circle cx="432.4" cy="411.8" r="0.4" fill="#777" fill-opacity="0.6"/>
<circle cx="431.7" cy="408.5" r="0.4" fill="#777" fill-opacity="0.6"/>
<circle cx="449.7" cy="407.3" r="0.4" fill="#777" fill-opacity="0.6"/>
<circle cx="436.0" cy="415.9" r="0.4" fill="#777" fill-opacity="0.6"/>
<circle cx="434.6" cy="416.2" r="0.4" fill="#777" fill-opacity="0.6"/>
<circle cx="430.3" cy="408.9" r="0.4" fill="#777" fill-opacity="0.6"/>
<circle cx="437.5" cy="394.0" r="0.4" fill="#777" fill-opacity="0.6"/>
<circle cx="450.4" cy="400.9" r="0.4" fill="#777" fill-opacity="0.6"/>
<circle cx="448.4" cy="411.9" r="0.4" fill="#777" fill-opacity="0.6"/>
<circle cx="449.8" cy="399.1" r="0.4" fill="#777" fill-opacity="0.6"/>
<circle cx="444.1" cy="417.1" r="0.4" fill="#777" fill-opacity="0.6"/>
<circle cx="436.6" cy="396.2" r="0.4" fill="#777" fill-opacity="0.6"/>
<circle cx="450.2" cy="408.3" r="0.4" fill="#777" fill-opacity="0.6"/>
<circle cx="437.4" cy="394.5" r="0.4" fill="#777" fill-opacity="0.6"/>
<circle cx="445.0" cy="412.9" r="0.4" fill="#777" fill-opacity="0.6"/>
<circle cx="438.1" cy="418.9" r="0.4" fill="#777" fill-opacity="0.6"/>
<circle cx="433.5" cy="413.1" r="0.4" fill="#777" fill-opacity="0.6"/>
<circle cx="449.8" cy="398.9" r="0.4" fill="#777" fill-opacity="0.6"/>
<circle cx="442.4" cy="418.4" r="0.4" fill="#777" fill-opacity="0.6"/>
<circle cx="434.2" cy="394.7" r="0.4" fill="#777" fill-opacity="0.6"/>
<circle cx="437.6" cy="391.5" r="0.4" fill="#777" fill-opacity="0.6"/>
<circle cx="445.3" cy="391.9" r="0.4" fill="#777" fill-opacity="0.6"/>
<circle cx="440.4" cy="418.3" r="0.4" fill="#777" fill-opacity="0.6"/>
<circle cx="431.0" cy="400.4" r="0.4" fill="#777" fill-opacity="0.6"/>
<circle cx="429.4" cy="408.3" r="0.4" fill="#777" fill-opacity="0.6"/>
<circle cx="433.0" cy="399.4" r="0.4" fill="#777" fill-opacity="0.6"/>
<circle cx="438.5" cy="416.1" r="0.4" fill="#777" fill-opacity="0.6"/>
<circle cx="432.2" cy="403.8" r="0.4" fill="#777" fill-opacity="0.6"/>
<circle cx="431.8" cy="405.6" r="0.4" fill="#777" fill-opacity="0.6"/>
<circle cx="430.9" cy="403.8" r="0.4" fill="#777" fill-opacity="0.6"/>
<circle cx="430.9" cy="399.4" r="0.4" fill="#777" fill-opacity="0.6"/>
<circle cx="449.9" cy="407.7" r="0.4" fill="#777" fill-opacity="0.6"/>
<circle cx="430.4" cy="405.6" r="0.4" fill="#777" fill-opacity="0.6"/>
<circle cx="437.5" cy="391.9" r="0.4" fill="#777" fill-opacity="0.6"/>
<circle cx="432.0" cy="412.3" r="0.4" fill="#777" fill-opacity="0.6"/>
<circle cx="448.0" cy="404.0" r="0.4" fill="#777" fill-opacity="0.6"/>
<circle cx="436.0" cy="393.7" r="0.4" fill="#777" fill-opacity="0.6"/>
<circle cx="448.7" cy="409.3" r="0.4" fill="#777" fill-opacity="0.6"/>
<circle cx="438.5" cy="391.0" r="0.4" fill="#777" fill-opacity="0.6"/>
<circle cx="432.2" cy="416.7" r="0.4" fill="#777" fill-opacity="0.6"/>
<circle cx="431.2" cy="402.3" r="0.4" fill="#777" fill-opacity="0.6"/>
<circle cx="447.4" cy="400.0" r="0.4" fill="#777" fill-opacity="0.6"/>
<circle cx="440.9" cy="391.8" r="0.4" fill="#777" fill-opacity="0.6"/>
<circle cx="432.1" cy="415.8" r="0.4" fill="#777" fill-opacity="0.6"/>
<circle cx="432.1" cy="413.0" r="0.4" fill="#777" fill-opacity="0.6"/>
<circle cx="430.7" cy="400.7" r="0.4" fill="#777" fill-opacity="0.6"/>
<circle cx="439.6" cy="417.3" r="0.4" fill="#777" fill-opacity="0.6"/>
<g transform="translate(440.00,405.00) rotate(12)">
<ellipse cx="0" cy="0" rx="9.0" ry="12.5" fill="url(#gG)"/>
<ellipse cx="0" cy="0" rx="9.00" ry="12.50" fill="none" stroke="#8a8a8a" stroke-opacity="0.3" stroke-width="0.5"/>
<ellipse cx="0" cy="0" rx="6.75" ry="9.38" fill="none" stroke="#8a8a8a" stroke-opacity="0.3" stroke-width="0.5"/>
<ellipse cx="0" cy="0" rx="4.50" ry="6.25" fill="none" stroke="#8a8a8a" stroke-opacity="0.3" stroke-width="0.5"/>
<ellipse cx="0" cy="0" rx="2.25" ry="3.12" fill="none" stroke="#8a8a8a" stroke-opacity="0.3" stroke-width="0.5"/>
<ellipse cx="0" cy="0" rx="1.26" ry="1.75" fill="#fff"/>
</g>
<path d="M431 402 C433 392 438 385 445 380 C447 379 448 382 446 385" fill="none" stroke="#777" stroke-width="0.6"/>
<rect x="422.50" y="346.25" width="72.00" height="72.05" stroke="#333" stroke-width="1.1" fill="none"/>
<rect x="442.70" y="346.25" width="35.30" height="24.95" stroke="#555" stroke-width="1.0" fill="none"/>
<text x="475.00" y="369.30" font-size="9.0" text-anchor="end" font-weight="normal" fill="#111" >0.1</text>
<line x1="254.40" y1="426.00" x2="254.40" y2="381.00" stroke="#111" stroke-width="1.3" />
<path d="M254.4 374.2 L257.7 382.7 L254.4 381 L251.1 382.7 Z" fill="#111"/>
<line x1="253.80" y1="426.00" x2="458.00" y2="426.00" stroke="#111" stroke-width="1.3" />
<path d="M465.5 426 L456.9 422.7 L458.7 426 L456.9 429.3 Z" fill="#111"/>
<text transform="translate(258.60,361.25) rotate(-90)" x="0" y="0" font-size="10.8" font-weight="bold" text-anchor="middle" fill="#111" textLength="16.3" lengthAdjust="spacingAndGlyphs">CD20</text>
<text x="470.50" y="429.70" font-size="10.9" text-anchor="start" font-weight="bold" fill="#111" textLength="15.6" lengthAdjust="spacingAndGlyphs" >CD19</text>
<clipPath id="clipF41"><path d="M36.75 500 H171.75 V542 H36.75 Z M36.75 550 H171.75 V640 H36.75 Z"/></clipPath>
<text x="102.05" y="514.90" font-size="10.0" text-anchor="middle" font-weight="normal" fill="#111" textLength="13.2" lengthAdjust="spacingAndGlyphs" style="stroke-width:0.4px">IL7</text>
<line x1="41.75" y1="521.00" x2="41.75" y2="543.10" stroke="#1a1a1a" stroke-width="1.1" />
<line x1="40.15" y1="543.10" x2="43.35" y2="543.10" stroke="#1a1a1a" stroke-width="1" />
<line x1="41.75" y1="549.40" x2="41.75" y2="628.10" stroke="#1a1a1a" stroke-width="1.1" />
<line x1="40.15" y1="549.40" x2="43.35" y2="549.40" stroke="#1a1a1a" stroke-width="1" />
<line x1="41.25" y1="627.60" x2="162.75" y2="627.60" stroke="#1a1a1a" stroke-width="1.2" />
<line x1="38.55" y1="523.50" x2="41.75" y2="523.50" stroke="#1a1a1a" stroke-width="1" />
<text x="35.15" y="526.30" font-size="8.5" text-anchor="end" font-weight="normal" fill="#222" >300</text>
<line x1="38.55" y1="536.50" x2="41.75" y2="536.50" stroke="#1a1a1a" stroke-width="1" />
<text x="35.15" y="539.30" font-size="8.5" text-anchor="end" font-weight="normal" fill="#222" >200</text>
<line x1="38.55" y1="549.40" x2="41.75" y2="549.40" stroke="#1a1a1a" stroke-width="1" />
<text x="35.15" y="552.20" font-size="8.5" text-anchor="end" font-weight="normal" fill="#222" >150</text>
<line x1="38.55" y1="562.44" x2="41.75" y2="562.44" stroke="#1a1a1a" stroke-width="1" />
<text x="35.15" y="565.24" font-size="8.5" text-anchor="end" font-weight="normal" fill="#222" >125</text>
<line x1="38.55" y1="575.47" x2="41.75" y2="575.47" stroke="#1a1a1a" stroke-width="1" />
<text x="35.15" y="578.27" font-size="8.5" text-anchor="end" font-weight="normal" fill="#222" >100</text>
<line x1="38.55" y1="588.50" x2="41.75" y2="588.50" stroke="#1a1a1a" stroke-width="1" />
<text x="35.15" y="591.30" font-size="8.5" text-anchor="end" font-weight="normal" fill="#222" >75</text>
<line x1="38.55" y1="601.54" x2="41.75" y2="601.54" stroke="#1a1a1a" stroke-width="1" />
<text x="35.15" y="604.34" font-size="8.5" text-anchor="end" font-weight="normal" fill="#222" >50</text>
<line x1="38.55" y1="614.57" x2="41.75" y2="614.57" stroke="#1a1a1a" stroke-width="1" />
<text x="35.15" y="617.37" font-size="8.5" text-anchor="end" font-weight="normal" fill="#222" >25</text>
<line x1="38.55" y1="627.60" x2="41.75" y2="627.60" stroke="#1a1a1a" stroke-width="1" />
<text x="35.15" y="630.40" font-size="8.5" text-anchor="end" font-weight="normal" fill="#222" >0</text>
<line x1="41.75" y1="627.60" x2="41.75" y2="630.60" stroke="#1a1a1a" stroke-width="1" />
<text x="41.75" y="641.20" font-size="8.6" text-anchor="middle" font-weight="normal" fill="#222" >0</text>
<line x1="65.35" y1="627.60" x2="65.35" y2="630.60" stroke="#1a1a1a" stroke-width="1" />
<text x="65.35" y="641.20" font-size="8.6" text-anchor="middle" font-weight="normal" fill="#222" >10</text>
<line x1="88.95" y1="627.60" x2="88.95" y2="630.60" stroke="#1a1a1a" stroke-width="1" />
<text x="88.95" y="641.20" font-size="8.6" text-anchor="middle" font-weight="normal" fill="#222" >20</text>
<line x1="112.55" y1="627.60" x2="112.55" y2="630.60" stroke="#1a1a1a" stroke-width="1" />
<text x="112.55" y="641.20" font-size="8.6" text-anchor="middle" font-weight="normal" fill="#222" >30</text>
<line x1="136.15" y1="627.60" x2="136.15" y2="630.60" stroke="#1a1a1a" stroke-width="1" />
<text x="136.15" y="641.20" font-size="8.6" text-anchor="middle" font-weight="normal" fill="#222" >40</text>
<line x1="159.75" y1="627.60" x2="159.75" y2="630.60" stroke="#1a1a1a" stroke-width="1" />
<text x="159.75" y="641.20" font-size="8.6" text-anchor="middle" font-weight="normal" fill="#222" >50</text>
<text x="102.05" y="655.00" font-size="9.4" text-anchor="middle" font-weight="bold" fill="#111" textLength="58.8" lengthAdjust="spacingAndGlyphs" >Days post-injection</text>
<text transform="translate(14.55,575.00) rotate(-90)" x="0" y="0" font-size="8.5" font-weight="bold" text-anchor="middle" fill="#111" textLength="72.7" lengthAdjust="spacingAndGlyphs">Relative CD19 level (%)</text>
<g clip-path="url(#clipF41)">
<path d="M41.75 575.47 L53.55 566.09 L72.43 570.26 L86.59 585.90 L103.11 575.47 L119.63 575.47 L147.95 587.46" fill="none" stroke="#c6c6ca" stroke-width="1.05"/>
<path d="M41.75 575.47 L53.55 580.68 L72.43 540.01 L86.59 556.18 L103.11 549.40 L119.63 530.00 L147.95 570.26" fill="none" stroke="#c6c6ca" stroke-width="1.05"/>
<path d="M41.75 575.47 L53.55 587.46 L72.43 561.13 L86.59 581.20" fill="none" stroke="#c6c6ca" stroke-width="1.05"/>
<path d="M41.75 575.47 L53.55 575.99 L72.43 570.26 L86.59 594.24 L103.11 590.59 L119.63 601.22 L147.95 599.97" fill="none" stroke="#c6c6ca" stroke-width="1.05"/>
<path d="M41.75 575.47 L53.55 577.03 L72.43 587.46 L86.59 602.58 L103.11 615.82 L119.63 607.48 L147.95 613.26" fill="none" stroke="#c6c6ca" stroke-width="1.05"/>
</g>
<circle cx="41.75" cy="575.47" r="2.3" fill="#c6c6ca"/>
<circle cx="53.55" cy="566.09" r="2.3" fill="#c6c6ca"/>
<circle cx="72.43" cy="570.26" r="2.3" fill="#c6c6ca"/>
<circle cx="86.59" cy="585.90" r="2.3" fill="#c6c6ca"/>
<circle cx="103.11" cy="575.47" r="2.3" fill="#c6c6ca"/>
<circle cx="119.63" cy="575.47" r="2.3" fill="#c6c6ca"/>
<circle cx="147.95" cy="587.46" r="2.3" fill="#c6c6ca"/>
<circle cx="41.75" cy="575.47" r="2.3" fill="#c6c6ca"/>
<circle cx="53.55" cy="580.68" r="2.3" fill="#c6c6ca"/>
<circle cx="72.43" cy="540.01" r="2.3" fill="#c6c6ca"/>
<circle cx="86.59" cy="556.18" r="2.3" fill="#c6c6ca"/>
<circle cx="103.11" cy="549.40" r="2.3" fill="#c6c6ca"/>
<circle cx="119.63" cy="530.00" r="2.3" fill="#c6c6ca"/>
<circle cx="147.95" cy="570.26" r="2.3" fill="#c6c6ca"/>
<path d="M41.75 572.60 L44.51 577.54 L38.99 577.54 Z" fill="#c6c6ca"/>
<path d="M53.55 584.58 L56.31 589.53 L50.79 589.53 Z" fill="#c6c6ca"/>
<path d="M72.43 558.26 L75.19 563.20 L69.67 563.20 Z" fill="#c6c6ca"/>
<path d="M86.59 578.33 L89.35 583.27 L83.83 583.27 Z" fill="#c6c6ca"/>
<circle cx="41.75" cy="575.47" r="2.3" fill="#c6c6ca"/>
<circle cx="53.55" cy="575.99" r="2.3" fill="#c6c6ca"/>
<circle cx="72.43" cy="570.26" r="2.3" fill="#c6c6ca"/>
<circle cx="86.59" cy="594.24" r="2.3" fill="#c6c6ca"/>
<circle cx="103.11" cy="590.59" r="2.3" fill="#c6c6ca"/>
<circle cx="119.63" cy="601.22" r="2.3" fill="#c6c6ca"/>
<circle cx="147.95" cy="599.97" r="2.3" fill="#c6c6ca"/>
<path d="M41.75 572.71 L44.51 575.47 L41.75 578.23 L38.99 575.47 Z" fill="#c6c6ca"/>
<path d="M53.55 574.27 L56.31 577.03 L53.55 579.79 L50.79 577.03 Z" fill="#c6c6ca"/>
<path d="M72.43 584.70 L75.19 587.46 L72.43 590.22 L69.67 587.46 Z" fill="#c6c6ca"/>
<path d="M86.59 599.82 L89.35 602.58 L86.59 605.34 L83.83 602.58 Z" fill="#c6c6ca"/>
<path d="M103.11 613.06 L105.87 615.82 L103.11 618.58 L100.35 615.82 Z" fill="#c6c6ca"/>
<path d="M119.63 604.72 L122.39 607.48 L119.63 610.24 L116.87 607.48 Z" fill="#c6c6ca"/>
<path d="M147.95 610.50 L150.71 613.26 L147.95 616.02 L145.19 613.26 Z" fill="#c6c6ca"/>
<clipPath id="clipF216"><path d="M211.25 500 H346.25 V542 H211.25 Z M211.25 550 H346.25 V640 H211.25 Z"/></clipPath>
<text x="276.55" y="514.90" font-size="10.0" text-anchor="middle" font-weight="normal" fill="#111" textLength="52.8" lengthAdjust="spacingAndGlyphs" >TR66.opt-LV</text>
<line x1="216.25" y1="521.00" x2="216.25" y2="543.10" stroke="#1a1a1a" stroke-width="1.1" />
<line x1="214.65" y1="543.10" x2="217.85" y2="543.10" stroke="#1a1a1a" stroke-width="1" />
<line x1="216.25" y1="549.40" x2="216.25" y2="628.10" stroke="#1a1a1a" stroke-width="1.1" />
<line x1="214.65" y1="549.40" x2="217.85" y2="549.40" stroke="#1a1a1a" stroke-width="1" />
<line x1="215.75" y1="627.60" x2="337.25" y2="627.60" stroke="#1a1a1a" stroke-width="1.2" />
<line x1="213.05" y1="523.50" x2="216.25" y2="523.50" stroke="#1a1a1a" stroke-width="1" />
<text x="209.65" y="526.30" font-size="8.5" text-anchor="end" font-weight="normal" fill="#222" >300</text>
<line x1="213.05" y1="536.50" x2="216.25" y2="536.50" stroke="#1a1a1a" stroke-width="1" />
<text x="209.65" y="539.30" font-size="8.5" text-anchor="end" font-weight="normal" fill="#222" >200</text>
<line x1="213.05" y1="549.40" x2="216.25" y2="549.40" stroke="#1a1a1a" stroke-width="1" />
<text x="209.65" y="552.20" font-size="8.5" text-anchor="end" font-weight="normal" fill="#222" >150</text>
<line x1="213.05" y1="562.44" x2="216.25" y2="562.44" stroke="#1a1a1a" stroke-width="1" />
<text x="209.65" y="565.24" font-size="8.5" text-anchor="end" font-weight="normal" fill="#222" >125</text>
<line x1="213.05" y1="575.47" x2="216.25" y2="575.47" stroke="#1a1a1a" stroke-width="1" />
<text x="209.65" y="578.27" font-size="8.5" text-anchor="end" font-weight="normal" fill="#222" >100</text>
<line x1="213.05" y1="588.50" x2="216.25" y2="588.50" stroke="#1a1a1a" stroke-width="1" />
<text x="209.65" y="591.30" font-size="8.5" text-anchor="end" font-weight="normal" fill="#222" >75</text>
<line x1="213.05" y1="601.54" x2="216.25" y2="601.54" stroke="#1a1a1a" stroke-width="1" />
<text x="209.65" y="604.34" font-size="8.5" text-anchor="end" font-weight="normal" fill="#222" >50</text>
<line x1="213.05" y1="614.57" x2="216.25" y2="614.57" stroke="#1a1a1a" stroke-width="1" />
<text x="209.65" y="617.37" font-size="8.5" text-anchor="end" font-weight="normal" fill="#222" >25</text>
<line x1="213.05" y1="627.60" x2="216.25" y2="627.60" stroke="#1a1a1a" stroke-width="1" />
<text x="209.65" y="630.40" font-size="8.5" text-anchor="end" font-weight="normal" fill="#222" >0</text>
<line x1="216.25" y1="627.60" x2="216.25" y2="630.60" stroke="#1a1a1a" stroke-width="1" />
<text x="216.25" y="641.20" font-size="8.6" text-anchor="middle" font-weight="normal" fill="#222" >0</text>
<line x1="239.85" y1="627.60" x2="239.85" y2="630.60" stroke="#1a1a1a" stroke-width="1" />
<text x="239.85" y="641.20" font-size="8.6" text-anchor="middle" font-weight="normal" fill="#222" >10</text>
<line x1="263.45" y1="627.60" x2="263.45" y2="630.60" stroke="#1a1a1a" stroke-width="1" />
<text x="263.45" y="641.20" font-size="8.6" text-anchor="middle" font-weight="normal" fill="#222" >20</text>
<line x1="287.05" y1="627.60" x2="287.05" y2="630.60" stroke="#1a1a1a" stroke-width="1" />
<text x="287.05" y="641.20" font-size="8.6" text-anchor="middle" font-weight="normal" fill="#222" >30</text>
<line x1="310.65" y1="627.60" x2="310.65" y2="630.60" stroke="#1a1a1a" stroke-width="1" />
<text x="310.65" y="641.20" font-size="8.6" text-anchor="middle" font-weight="normal" fill="#222" >40</text>
<line x1="334.25" y1="627.60" x2="334.25" y2="630.60" stroke="#1a1a1a" stroke-width="1" />
<text x="334.25" y="641.20" font-size="8.6" text-anchor="middle" font-weight="normal" fill="#222" >50</text>
<text x="276.55" y="655.00" font-size="9.4" text-anchor="middle" font-weight="bold" fill="#111" textLength="58.8" lengthAdjust="spacingAndGlyphs" >Days post-injection</text>
<text transform="translate(189.05,575.00) rotate(-90)" x="0" y="0" font-size="8.5" font-weight="bold" text-anchor="middle" fill="#111" textLength="72.7" lengthAdjust="spacingAndGlyphs">Relative CD19 level (%)</text>
<g clip-path="url(#clipF216)">
<path d="M216.25 575.47 L228.05 540.53 L246.93 556.70 L261.09 569.74 L277.61 602.06 L294.13 603.83 L322.45 616.34" fill="none" stroke="#2b4c8c" stroke-width="1.05"/>
<path d="M216.25 575.47 L228.05 556.18 L246.93 577.56 L261.09 587.46 L277.61 616.65 L294.13 617.17 L322.45 618.11" fill="none" stroke="#2b4c8c" stroke-width="1.05"/>
<path d="M216.25 575.47 L228.05 560.87 L246.93 589.02 L261.09 598.41 L277.61 619.52 L294.13 621.34 L322.45 626.87" fill="none" stroke="#2b4c8c" stroke-width="1.05"/>
<path d="M216.25 575.47 L228.05 591.11 L246.93 592.67 L261.09 619.52" fill="none" stroke="#2b4c8c" stroke-width="1.05"/>
<path d="M216.25 575.47 L228.05 571.30 L246.93 599.45 L261.09 608.83 L277.61 624.21 L294.13 622.39 L322.45 595.07" fill="none" stroke="#2b4c8c" stroke-width="1.05"/>
</g>
<path d="M216.25 578.35 L219.01 573.40 L213.49 573.40 Z" fill="#2b4c8c"/>
<path d="M228.05 543.40 L230.81 538.46 L225.29 538.46 Z" fill="#2b4c8c"/>
<path d="M246.93 559.58 L249.69 554.63 L244.17 554.63 Z" fill="#2b4c8c"/>
<path d="M261.09 572.61 L263.85 567.67 L258.33 567.67 Z" fill="#2b4c8c"/>
<path d="M277.61 604.93 L280.37 599.99 L274.85 599.99 Z" fill="#2b4c8c"/>
<path d="M294.13 606.70 L296.89 601.76 L291.37 601.76 Z" fill="#2b4c8c"/>
<path d="M322.45 619.21 L325.21 614.27 L319.69 614.27 Z" fill="#2b4c8c"/>
<circle cx="216.25" cy="575.47" r="2.3" fill="#2b4c8c"/>
<circle cx="228.05" cy="556.18" r="2.3" fill="#2b4c8c"/>
<circle cx="246.93" cy="577.56" r="2.3" fill="#2b4c8c"/>
<circle cx="261.09" cy="587.46" r="2.3" fill="#2b4c8c"/>
<circle cx="277.61" cy="616.65" r="2.3" fill="#2b4c8c"/>
<circle cx="294.13" cy="617.17" r="2.3" fill="#2b4c8c"/>
<circle cx="322.45" cy="618.11" r="2.3" fill="#2b4c8c"/>
<path d="M216.25 572.60 L219.01 577.54 L213.49 577.54 Z" fill="#2b4c8c"/>
<path d="M228.05 558.00 L230.81 562.94 L225.29 562.94 Z" fill="#2b4c8c"/>
<path d="M246.93 586.15 L249.69 591.09 L244.17 591.09 Z" fill="#2b4c8c"/>
<path d="M261.09 595.53 L263.85 600.48 L258.33 600.48 Z" fill="#2b4c8c"/>
<path d="M277.61 616.64 L280.37 621.59 L274.85 621.59 Z" fill="#2b4c8c"/>
<path d="M294.13 618.47 L296.89 623.41 L291.37 623.41 Z" fill="#2b4c8c"/>
<path d="M322.45 624.00 L325.21 628.94 L319.69 628.94 Z" fill="#2b4c8c"/>
<circle cx="216.25" cy="575.47" r="2.3" fill="#2b4c8c"/>
<circle cx="228.05" cy="591.11" r="2.3" fill="#2b4c8c"/>
<circle cx="246.93" cy="592.67" r="2.3" fill="#2b4c8c"/>
<circle cx="261.09" cy="619.52" r="2.3" fill="#2b4c8c"/>
<rect x="213.95" y="573.17" width="4.60" height="4.60" fill="#2b4c8c"/>
<rect x="225.75" y="569.00" width="4.60" height="4.60" fill="#2b4c8c"/>
<rect x="244.63" y="597.15" width="4.60" height="4.60" fill="#2b4c8c"/>
<rect x="258.79" y="606.53" width="4.60" height="4.60" fill="#2b4c8c"/>
<rect x="275.31" y="621.91" width="4.60" height="4.60" fill="#2b4c8c"/>
<rect x="291.83" y="620.09" width="4.60" height="4.60" fill="#2b4c8c"/>
<path d="M322.45 597.95 L325.21 593.00 L319.69 593.00 Z" fill="#2b4c8c"/>
<text x="277.50" y="594.80" font-size="7.5" text-anchor="middle" font-weight="bold" fill="#222" >*</text>
<text x="292.00" y="598.10" font-size="7.5" text-anchor="middle" font-weight="bold" fill="#222" >***</text>
<clipPath id="clipF390"><path d="M385.6 500 H520.6 V542 H385.6 Z M385.6 550 H520.6 V640 H385.6 Z"/></clipPath>
<text x="450.90" y="514.90" font-size="10.0" text-anchor="middle" font-weight="normal" fill="#111" textLength="80.5" lengthAdjust="spacingAndGlyphs" >TR66.opt-LV + IL-7</text>
<line x1="390.60" y1="521.00" x2="390.60" y2="543.10" stroke="#1a1a1a" stroke-width="1.1" />
<line x1="389.00" y1="543.10" x2="392.20" y2="543.10" stroke="#1a1a1a" stroke-width="1" />
<line x1="390.60" y1="549.40" x2="390.60" y2="628.10" stroke="#1a1a1a" stroke-width="1.1" />
<line x1="389.00" y1="549.40" x2="392.20" y2="549.40" stroke="#1a1a1a" stroke-width="1" />
<line x1="390.10" y1="627.60" x2="511.60" y2="627.60" stroke="#1a1a1a" stroke-width="1.2" />
<line x1="387.40" y1="523.50" x2="390.60" y2="523.50" stroke="#1a1a1a" stroke-width="1" />
<text x="384.00" y="526.30" font-size="8.5" text-anchor="end" font-weight="normal" fill="#222" >300</text>
<line x1="387.40" y1="536.50" x2="390.60" y2="536.50" stroke="#1a1a1a" stroke-width="1" />
<text x="384.00" y="539.30" font-size="8.5" text-anchor="end" font-weight="normal" fill="#222" >200</text>
<line x1="387.40" y1="549.40" x2="390.60" y2="549.40" stroke="#1a1a1a" stroke-width="1" />
<text x="384.00" y="552.20" font-size="8.5" text-anchor="end" font-weight="normal" fill="#222" >150</text>
<line x1="387.40" y1="562.44" x2="390.60" y2="562.44" stroke="#1a1a1a" stroke-width="1" />
<text x="384.00" y="565.24" font-size="8.5" text-anchor="end" font-weight="normal" fill="#222" >125</text>
<line x1="387.40" y1="575.47" x2="390.60" y2="575.47" stroke="#1a1a1a" stroke-width="1" />
<text x="384.00" y="578.27" font-size="8.5" text-anchor="end" font-weight="normal" fill="#222" >100</text>
<line x1="387.40" y1="588.50" x2="390.60" y2="588.50" stroke="#1a1a1a" stroke-width="1" />
<text x="384.00" y="591.30" font-size="8.5" text-anchor="end" font-weight="normal" fill="#222" >75</text>
<line x1="387.40" y1="601.54" x2="390.60" y2="601.54" stroke="#1a1a1a" stroke-width="1" />
<text x="384.00" y="604.34" font-size="8.5" text-anchor="end" font-weight="normal" fill="#222" >50</text>
<line x1="387.40" y1="614.57" x2="390.60" y2="614.57" stroke="#1a1a1a" stroke-width="1" />
<text x="384.00" y="617.37" font-size="8.5" text-anchor="end" font-weight="normal" fill="#222" >25</text>
<line x1="387.40" y1="627.60" x2="390.60" y2="627.60" stroke="#1a1a1a" stroke-width="1" />
<text x="384.00" y="630.40" font-size="8.5" text-anchor="end" font-weight="normal" fill="#222" >0</text>
<line x1="390.60" y1="627.60" x2="390.60" y2="630.60" stroke="#1a1a1a" stroke-width="1" />
<text x="390.60" y="641.20" font-size="8.6" text-anchor="middle" font-weight="normal" fill="#222" >0</text>
<line x1="414.20" y1="627.60" x2="414.20" y2="630.60" stroke="#1a1a1a" stroke-width="1" />
<text x="414.20" y="641.20" font-size="8.6" text-anchor="middle" font-weight="normal" fill="#222" >10</text>
<line x1="437.80" y1="627.60" x2="437.80" y2="630.60" stroke="#1a1a1a" stroke-width="1" />
<text x="437.80" y="641.20" font-size="8.6" text-anchor="middle" font-weight="normal" fill="#222" >20</text>
<line x1="461.40" y1="627.60" x2="461.40" y2="630.60" stroke="#1a1a1a" stroke-width="1" />
<text x="461.40" y="641.20" font-size="8.6" text-anchor="middle" font-weight="normal" fill="#222" >30</text>
<line x1="485.00" y1="627.60" x2="485.00" y2="630.60" stroke="#1a1a1a" stroke-width="1" />
<text x="485.00" y="641.20" font-size="8.6" text-anchor="middle" font-weight="normal" fill="#222" >40</text>
<line x1="508.60" y1="627.60" x2="508.60" y2="630.60" stroke="#1a1a1a" stroke-width="1" />
<text x="508.60" y="641.20" font-size="8.6" text-anchor="middle" font-weight="normal" fill="#222" >50</text>
<text x="450.90" y="655.00" font-size="9.4" text-anchor="middle" font-weight="bold" fill="#111" textLength="58.8" lengthAdjust="spacingAndGlyphs" >Days post-injection</text>
<text transform="translate(363.40,575.00) rotate(-90)" x="0" y="0" font-size="8.5" font-weight="bold" text-anchor="middle" fill="#111" textLength="72.7" lengthAdjust="spacingAndGlyphs">Relative CD19 level (%)</text>
<g clip-path="url(#clipF390)">
<path d="M390.60 575.47 L402.40 564.52 L421.28 561.92 L435.44 572.03 L451.96 626.56 L468.48 624.99 L496.80 624.47" fill="none" stroke="#6aae4a" stroke-width="1.05"/>
<path d="M390.60 575.47 L402.40 597.57 L421.28 599.45 L435.44 610.61 L451.96 613.11 L468.48 597.57 L496.80 614.36" fill="none" stroke="#6aae4a" stroke-width="1.05"/>
<path d="M390.60 575.47 L402.40 573.91 L421.28 592.67 L435.44 603.10 L451.96 626.56 L468.48 626.04 L496.80 626.56" fill="none" stroke="#6aae4a" stroke-width="1.05"/>
<path d="M390.60 575.47 L402.40 576.51 L421.28 599.45 L435.44 610.61 L451.96 626.56 L468.48 626.56 L496.80 627.08" fill="none" stroke="#6aae4a" stroke-width="1.05"/>
<path d="M390.60 575.47 L402.40 581.20 L421.28 612.48 L435.44 620.09 L451.96 627.08 L468.48 627.08 L496.80 627.34" fill="none" stroke="#6aae4a" stroke-width="1.05"/>
<path d="M390.60 575.47 L402.40 567.65 L421.28 613.84 L435.44 622.07 L451.96 627.08 L468.48 626.56 L496.80 627.08" fill="none" stroke="#6aae4a" stroke-width="1.05"/>
</g>
<path d="M390.60 572.60 L393.36 577.54 L387.84 577.54 Z" fill="#6aae4a"/>
<path d="M402.40 561.65 L405.16 566.59 L399.64 566.59 Z" fill="#6aae4a"/>
<path d="M421.28 559.04 L424.04 563.99 L418.52 563.99 Z" fill="#6aae4a"/>
<path d="M435.44 569.15 L438.20 574.10 L432.68 574.10 Z" fill="#6aae4a"/>
<path d="M451.96 623.68 L454.72 628.63 L449.20 628.63 Z" fill="#6aae4a"/>
<path d="M468.48 622.12 L471.24 627.06 L465.72 627.06 Z" fill="#6aae4a"/>
<path d="M496.80 621.60 L499.56 626.54 L494.04 626.54 Z" fill="#6aae4a"/>
<circle cx="390.60" cy="575.47" r="2.3" fill="#6aae4a"/>
<circle cx="402.40" cy="597.57" r="2.3" fill="#6aae4a"/>
<circle cx="421.28" cy="599.45" r="2.3" fill="#6aae4a"/>
<circle cx="435.44" cy="610.61" r="2.3" fill="#6aae4a"/>
<circle cx="451.96" cy="613.11" r="2.3" fill="#6aae4a"/>
<circle cx="468.48" cy="597.57" r="2.3" fill="#6aae4a"/>
<circle cx="496.80" cy="614.36" r="2.3" fill="#6aae4a"/>
<path d="M390.60 572.71 L393.36 575.47 L390.60 578.23 L387.84 575.47 Z" fill="#6aae4a"/>
<path d="M402.40 571.15 L405.16 573.91 L402.40 576.67 L399.64 573.91 Z" fill="#6aae4a"/>
<path d="M421.28 589.91 L424.04 592.67 L421.28 595.43 L418.52 592.67 Z" fill="#6aae4a"/>
<path d="M435.44 600.34 L438.20 603.10 L435.44 605.86 L432.68 603.10 Z" fill="#6aae4a"/>
<path d="M451.96 623.80 L454.72 626.56 L451.96 629.32 L449.20 626.56 Z" fill="#6aae4a"/>
<path d="M468.48 623.28 L471.24 626.04 L468.48 628.80 L465.72 626.04 Z" fill="#6aae4a"/>
<path d="M496.80 623.80 L499.56 626.56 L496.80 629.32 L494.04 626.56 Z" fill="#6aae4a"/>
<circle cx="390.60" cy="575.47" r="2.3" fill="#6aae4a"/>
<circle cx="402.40" cy="576.51" r="2.3" fill="#6aae4a"/>
<circle cx="421.28" cy="599.45" r="2.3" fill="#6aae4a"/>
<circle cx="435.44" cy="610.61" r="2.3" fill="#6aae4a"/>
<circle cx="451.96" cy="626.56" r="2.3" fill="#6aae4a"/>
<circle cx="468.48" cy="626.56" r="2.3" fill="#6aae4a"/>
<circle cx="496.80" cy="627.08" r="2.3" fill="#6aae4a"/>
<rect x="388.30" y="573.17" width="4.60" height="4.60" fill="#6aae4a"/>
<rect x="400.10" y="578.90" width="4.60" height="4.60" fill="#6aae4a"/>
<rect x="418.98" y="610.18" width="4.60" height="4.60" fill="#6aae4a"/>
<rect x="433.14" y="617.79" width="4.60" height="4.60" fill="#6aae4a"/>
<rect x="449.66" y="624.78" width="4.60" height="4.60" fill="#6aae4a"/>
<rect x="466.18" y="624.78" width="4.60" height="4.60" fill="#6aae4a"/>
<rect x="494.50" y="625.04" width="4.60" height="4.60" fill="#6aae4a"/>
<rect x="388.30" y="573.17" width="4.60" height="4.60" fill="#6aae4a"/>
<rect x="400.10" y="565.35" width="4.60" height="4.60" fill="#6aae4a"/>
<rect x="418.98" y="611.54" width="4.60" height="4.60" fill="#6aae4a"/>
<rect x="433.14" y="619.77" width="4.60" height="4.60" fill="#6aae4a"/>
<rect x="449.66" y="624.78" width="4.60" height="4.60" fill="#6aae4a"/>
<rect x="466.18" y="624.26" width="4.60" height="4.60" fill="#6aae4a"/>
<rect x="494.50" y="624.78" width="4.60" height="4.60" fill="#6aae4a"/>
<text x="420.50" y="556.80" font-size="7.5" text-anchor="middle" font-weight="bold" fill="#222" >*</text>
<text x="450.80" y="606.80" font-size="7.5" text-anchor="middle" font-weight="bold" fill="#222" >**</text>
<text x="466.90" y="591.10" font-size="7.5" text-anchor="middle" font-weight="bold" fill="#222" >***</text>
<text x="495.50" y="608.60" font-size="7.5" text-anchor="middle" font-weight="bold" fill="#222" >*</text>
</svg></div></body></html>
